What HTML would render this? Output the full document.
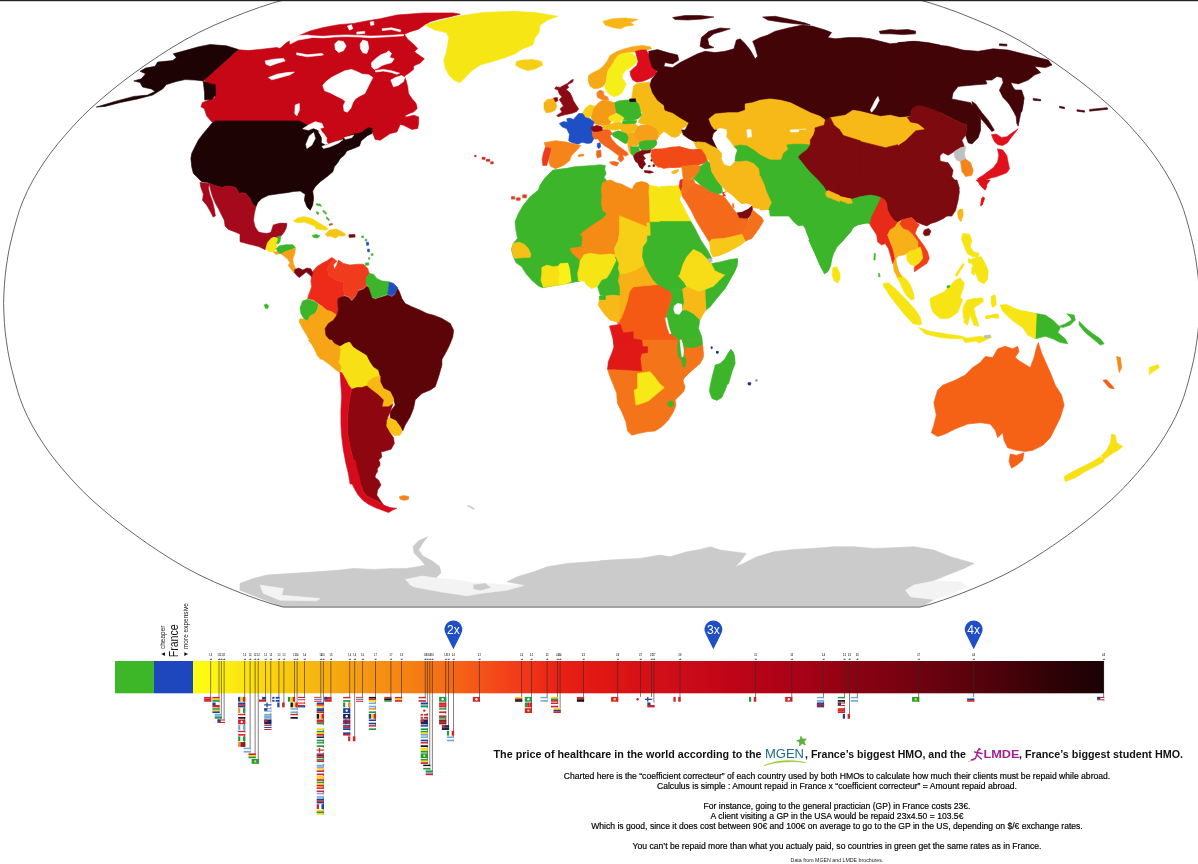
<!DOCTYPE html>
<html><head><meta charset="utf-8"><title>The price of healthcare in the world</title>
<style>
html,body{margin:0;padding:0;background:#fff;}
body{width:1198px;height:864px;overflow:hidden;position:relative;font-family:"Liberation Sans",sans-serif;}
svg{position:absolute;left:0;top:0;}
text{font-family:"Liberation Sans",sans-serif;}
</style></head><body>
<svg width="1198" height="864" viewBox="0 0 1198 864">
<defs><linearGradient id="bar" x1="0" x2="1" y1="0" y2="0"><stop offset="0.0000" stop-color="#ffff14"/><stop offset="0.0516" stop-color="#fbe60f"/><stop offset="0.1175" stop-color="#f7c010"/><stop offset="0.1723" stop-color="#f5a012"/><stop offset="0.2272" stop-color="#f58614"/><stop offset="0.2821" stop-color="#f46a16"/><stop offset="0.3370" stop-color="#f3461a"/><stop offset="0.3699" stop-color="#f03418"/><stop offset="0.4029" stop-color="#e82015"/><stop offset="0.4687" stop-color="#db1414"/><stop offset="0.5346" stop-color="#cc0c18"/><stop offset="0.5895" stop-color="#c00418"/><stop offset="0.6663" stop-color="#a80216"/><stop offset="0.7212" stop-color="#8e0212"/><stop offset="0.7761" stop-color="#780210"/><stop offset="0.8310" stop-color="#62020e"/><stop offset="0.8858" stop-color="#4c020a"/><stop offset="0.9407" stop-color="#300206"/><stop offset="1.0000" stop-color="#1a0204"/></linearGradient>
<clipPath id="globe"><path d="M283.3,607.1 L272.2,604.0 L259.4,599.8 L245.2,594.7 L230.1,588.7 L214.3,582.0 L199.0,574.8 L184.9,567.3 L171.9,559.6 L159.4,551.6 L147.3,543.5 L135.5,535.1 L124.0,526.6 L112.9,517.9 L102.3,509.0 L92.1,500.1 L82.6,491.0 L73.9,481.9 L65.7,472.7 L57.8,463.4 L50.5,454.1 L43.9,444.7 L37.9,435.3 L32.4,425.9 L27.5,416.5 L23.3,407.1 L19.7,397.7 L16.8,388.3 L14.2,378.9 L11.8,369.5 L9.6,360.1 L7.8,350.6 L6.4,341.2 L5.2,331.8 L4.4,322.4 L3.9,313.0 L3.6,303.6 L3.9,294.2 L4.4,284.8 L5.2,275.4 L6.4,266.0 L7.8,256.6 L9.6,247.1 L11.8,237.7 L14.2,228.3 L16.8,218.9 L19.7,209.5 L23.3,200.1 L27.5,190.7 L32.4,181.3 L37.9,171.9 L43.9,162.5 L50.5,153.1 L57.8,143.8 L65.7,134.5 L73.9,125.3 L82.6,116.2 L92.1,107.1 L102.3,98.2 L112.9,89.3 L124.0,80.6 L135.5,72.1 L147.3,63.7 L159.4,55.6 L171.9,47.6 L184.9,39.9 L199.0,32.4 L214.3,25.2 L230.1,18.5 L245.2,12.5 L259.4,7.4 L272.2,3.2 L283.3,0.1 L919.9,0.1 L931.0,3.2 L943.8,7.4 L958.0,12.5 L973.1,18.5 L988.9,25.2 L1004.2,32.4 L1018.3,39.9 L1031.3,47.6 L1043.8,55.6 L1055.9,63.7 L1067.7,72.1 L1079.2,80.6 L1090.3,89.3 L1100.9,98.2 L1111.1,107.1 L1120.6,116.2 L1129.3,125.3 L1137.5,134.5 L1145.4,143.8 L1152.7,153.1 L1159.3,162.5 L1165.3,171.9 L1170.8,181.3 L1175.7,190.7 L1179.9,200.1 L1183.5,209.5 L1186.4,218.9 L1189.0,228.3 L1191.4,237.7 L1193.6,247.1 L1195.4,256.6 L1196.8,266.0 L1198.0,275.4 L1198.8,284.8 L1199.3,294.2 L1199.6,303.6 L1199.3,313.0 L1198.8,322.4 L1198.0,331.8 L1196.8,341.2 L1195.4,350.6 L1193.6,360.1 L1191.4,369.5 L1189.0,378.9 L1186.4,388.3 L1183.5,397.7 L1179.9,407.1 L1175.7,416.5 L1170.8,425.9 L1165.3,435.3 L1159.3,444.7 L1152.7,454.1 L1145.4,463.4 L1137.5,472.7 L1129.3,481.9 L1120.6,491.0 L1111.1,500.1 L1100.9,509.0 L1090.3,517.9 L1079.2,526.6 L1067.7,535.1 L1055.9,543.5 L1043.8,551.6 L1031.3,559.6 L1018.3,567.3 L1004.2,574.8 L988.9,582.0 L973.1,588.7 L958.0,594.7 L943.8,599.8 L931.0,604.0 L919.9,607.1Z"/></clipPath></defs>
<rect width="1198" height="864" fill="#fff"/>
<g clip-path="url(#globe)">
<g><!-- 00_antarctica.py -->
<polygon fill="#cbcbcb" stroke="#cbcbcb" stroke-width="0.6" points="240.0,583.5 253.4,578.5 266.7,575.1 290.1,573.5 316.8,571.8 340.2,570.1 353.5,568.4 373.6,569.4 393.6,568.4 406.9,568.4 417.0,566.8 425.3,565.1 420.3,559.4 414.3,553.4 413.0,546.7 418.6,540.7 427.6,536.7 423.0,542.7 418.6,550.1 423.0,556.1 432.0,560.8 439.7,566.8 441.0,572.8 435.3,578.5 422.0,581.8 406.9,583.5 413.6,586.8 440.3,591.8 467.0,595.2 473.7,593.5 480.4,591.8 493.8,590.2 507.1,588.5 523.8,585.1 507.1,581.8 517.1,576.8 533.8,571.8 547.2,566.8 567.2,563.4 590.6,561.8 614.0,560.1 640.0,560.1 640.0,607.5 283.4,607.5 240.0,590.2" />
<polygon fill="#f3f3f3" stroke="#f3f3f3" stroke-width="0.6" points="260.0,585.1 283.4,588.5 281.7,595.2 320.1,598.5 316.8,600.8 280.1,600.2 263.4,593.5" />
<polygon fill="#f3f3f3" stroke="#f3f3f3" stroke-width="0.6" points="405.3,579.5 422.0,576.1 440.3,578.5 457.0,580.1 473.7,582.8 493.8,584.1 523.8,585.5 507.1,590.2 480.4,593.5 467.0,595.8 440.3,591.8 413.6,586.8" />
<polygon fill="#cbcbcb" stroke="#cbcbcb" stroke-width="0.6" points="473.7,585.1 485.4,583.5 490.4,587.5 480.4,590.2 473.7,588.8" />
</g>
<g><!-- 01_antarctica_e.py -->
<polygon fill="#cbcbcb" stroke="#cbcbcb" stroke-width="0.6" points="600.0,560.8 620.0,559.4 640.1,558.4 660.1,555.1 670.1,556.8 686.8,551.8 700.2,549.4 710.2,546.7 720.2,550.1 733.6,551.8 746.2,553.4 740.2,561.8 735.2,566.8 743.6,563.4 756.9,556.8 773.6,551.8 793.7,549.4 813.7,548.4 833.7,546.7 853.8,546.7 873.8,548.4 893.8,547.7 913.9,546.7 933.9,550.1 950.6,556.8 974.0,563.4 963.9,568.4 947.2,575.1 930.6,581.8 913.9,585.1 905.5,590.2 910.5,596.8 933.9,599.5 920.5,607.5 600.0,607.5" />
<polygon fill="#f3f3f3" stroke="#f3f3f3" stroke-width="0.6" points="905.5,590.2 913.9,585.1 933.9,581.1 960.6,581.8 967.3,586.8 947.2,595.2 933.9,599.5 910.5,596.8" />
</g>
<g><!-- 10_canada_w.py -->
<polygon fill="#c70616" stroke="#c70616" stroke-width="0.6" points="238.4,49.7 204.2,80.1 208.4,84.3 215.0,84.3 215.0,97.6 209.2,100.1 202.5,102.6 200.9,106.8 204.2,108.5 206.7,116.0 211.7,121.8 215.0,124.3 215.9,121.0 300.2,121.0 303.5,126.8 310.2,124.3 320.2,121.8 323.6,126.8 325.2,131.0 323.6,136.9 328.6,140.2 335.2,136.9 343.6,135.2 350.3,133.5 356.9,130.2 367.0,128.5 371.1,126.8 373.6,130.2 375.3,136.9 382.0,135.2 390.0,131.9 390.0,70.1 373.6,73.4 365.3,61.7 356.9,58.4 350.3,51.7 340.3,54.2 331.9,55.9 323.6,54.2 313.5,52.6 306.9,54.2 299.3,55.1 296.8,50.9 285.2,50.1 276.8,47.5 261.8,49.2 248.4,50.6" />
</g>
<g><!-- 11_canada_e.py -->
<polygon fill="#c70616" stroke="#c70616" stroke-width="0.6" points="280.0,48.4 286.7,42.6 298.4,35.9 310.1,30.9 323.4,27.5 338.4,24.7 353.5,23.4 366.8,20.9 380.2,18.7 396.9,15.0 423.6,13.0 453.6,12.9 460.3,14.2 450.3,16.7 438.6,19.2 430.3,21.7 424.4,25.0 418.6,29.2 410.2,31.7 404.4,34.2 407.7,39.2 413.6,44.2 417.7,48.4 414.4,51.8 420.2,55.9 424.4,58.8 420.2,63.1 413.6,65.9 413.6,69.3 408.5,73.5 404.4,76.0 406.0,80.1 407.7,86.8 408.5,93.5 411.9,98.5 416.1,103.5 417.2,108.5 413.6,111.9 409.4,113.5 404.4,116.0 406.9,116.9 413.6,115.2 418.6,116.9 418.6,123.5 417.7,128.5 411.9,129.4 403.5,125.2 400.2,124.4 396.9,131.9 390.2,133.6 380.2,140.2 375.2,139.4 373.5,135.2 371.0,129.4 366.8,131.9 358.5,134.4 350.1,137.7 343.4,139.4 335.1,141.9 328.4,143.6 325.1,138.6 322.6,131.9 318.4,124.4 311.7,123.5 305.0,126.0 301.7,122.7 296.7,121.0 280.0,121.0" />
</g>
<g><!-- 12_usa.py -->
<polygon fill="#1e0305" stroke="#1e0305" stroke-width="0.6" points="215.1,120.9 299.4,120.9 306.9,125.0 318.6,130.9 321.9,138.4 325.2,145.1 335.3,141.7 342.8,139.2 348.6,135.9 353.6,134.2 362.0,132.6 364.5,130.1 368.6,127.5 372.0,128.4 372.0,133.4 367.0,135.9 361.1,140.9 359.5,145.9 353.6,148.4 346.9,150.9 344.4,155.1 340.3,158.4 337.8,162.6 334.4,166.8 332.8,171.8 326.9,176.8 320.2,181.8 315.2,186.8 312.7,191.0 313.6,198.5 312.7,205.2 310.2,210.2 306.9,206.8 304.4,200.2 305.2,194.3 300.2,191.0 293.5,191.5 286.8,192.7 280.2,193.5 275.2,194.3 268.5,195.2 261.8,198.5 257.6,202.7 256.0,206.8 252.6,204.3 250.1,198.5 245.9,193.5 241.8,192.7 239.3,193.5 235.9,187.6 230.1,186.0 225.1,186.0 222.6,187.6 213.4,185.1 207.5,182.6 201.7,181.8 197.5,177.6 193.4,173.5 191.7,166.8 190.9,158.4 191.7,153.4 195.0,146.7 198.4,140.1 203.4,133.4 208.4,127.5 211.7,123.4" />
<polygon fill="#a50a1c" stroke="#a50a1c" stroke-width="0.6" points="209.2,183.5 213.4,185.1 222.6,187.6 225.1,186.0 230.1,186.0 235.9,187.6 239.3,193.5 241.8,192.7 245.9,193.5 250.1,198.5 252.6,204.3 256.0,206.8 254.3,213.5 253.5,220.2 255.1,226.9 258.5,231.9 263.5,234.4 270.2,233.6 274.3,228.5 276.0,224.4 281.8,223.5 286.8,224.4 284.3,231.9 281.8,235.2 278.5,237.7 273.5,236.9 271.0,238.6 270.2,244.1 258.5,244.1 251.8,239.4 243.4,235.6 235.1,231.9 228.4,229.4 225.1,226.0 224.2,220.2 221.7,215.2 218.4,208.5 215.1,202.7 212.6,196.8 210.9,191.0" />
<polygon fill="#a50a1c" stroke="#a50a1c" stroke-width="0.6" points="200.0,182.6 209.2,183.5 208.4,188.5 210.1,195.2 212.6,201.8 214.2,208.5 215.4,216.0 213.1,216.9 210.1,211.0 206.7,205.2 202.5,200.2 203.4,194.3 200.9,187.6" />
<polygon fill="#ffffff" stroke="#ffffff" stroke-width="0.6" points="302.7,128.7 308.5,125.0 315.2,121.7 321.9,123.4 323.6,127.5 318.6,128.7 313.6,128.0 308.5,130.1" />
<polygon fill="#ffffff" stroke="#ffffff" stroke-width="0.6" points="309.4,135.9 313.6,132.6 315.2,138.4 311.9,145.1 306.9,148.4 306.0,144.2" />
<polygon fill="#ffffff" stroke="#ffffff" stroke-width="0.6" points="318.6,131.7 323.6,133.4 326.9,138.4 325.2,144.2 321.9,142.6 322.2,137.6" />
<polygon fill="#ffffff" stroke="#ffffff" stroke-width="0.6" points="321.9,146.4 326.9,144.7 335.3,141.7 342.8,139.7 338.6,143.1 330.3,146.7 323.6,148.4" />
<polygon fill="#ffffff" stroke="#ffffff" stroke-width="0.6" points="344.4,137.6 350.3,135.9 353.6,135.1 352.0,137.6 345.3,139.2" />
</g>
<g><!-- 13_alaska.py -->
<polygon fill="#1e0305" stroke="#1e0305" stroke-width="0.6" points="238.3,49.5 226.5,45.8 210.2,44.5 197.7,47.0 185.2,50.6 173.2,53.8 176.4,57.6 172.7,60.6 157.6,62.1 155.1,66.3 145.6,68.1 140.1,71.3 145.6,73.8 141.4,78.8 133.8,80.9 140.1,82.6 142.6,87.1 151.4,88.9 155.1,91.4 147.6,95.1 133.8,96.4 115.1,101.4 96.3,107.1 105.0,106.4 120.1,102.6 137.6,98.9 152.6,95.1 162.6,88.9 166.4,84.6 176.4,81.4 185.2,79.6 195.2,80.1 203.2,80.9 210.2,83.9 215.2,84.6 215.7,95.1 211.5,99.6 204.7,100.1 204.5,92.6 203.2,80.9" />
</g>
<g><!-- 14_canada_cut.py -->
<polygon fill="#ffffff" stroke="#ffffff" stroke-width="0.6" points="265.1,60.9 273.5,59.2 283.5,58.4 285.2,60.9 276.8,63.4 270.1,65.9 266.0,64.2" />
<polygon fill="#ffffff" stroke="#ffffff" stroke-width="0.6" points="268.5,77.6 276.8,74.3 286.8,72.6 294.3,72.1 290.2,74.8 280.2,77.6 271.8,79.8" />
<polygon fill="#ffffff" stroke="#ffffff" stroke-width="0.6" points="295.2,105.1 299.3,103.5 299.3,110.2 296.8,116.0 294.8,113.5" />
</g>
<g><!-- 15_canada_cut2.py -->
<polygon fill="#ffffff" stroke="#ffffff" stroke-width="0.6" points="334.7,44.1 338.1,40.7 343.4,41.4 346.1,46.1 343.4,50.8 338.7,52.4 335.4,49.4" />
<polygon fill="#ffffff" stroke="#ffffff" stroke-width="0.6" points="360.1,44.1 362.8,40.1 367.5,41.4 368.8,48.1 366.8,53.4 362.8,52.8 360.5,48.7" />
<polygon fill="#ffffff" stroke="#ffffff" stroke-width="0.6" points="371.5,62.8 375.5,58.8 380.8,54.8 386.2,52.8 388.8,50.8 391.5,53.4 389.5,57.4 394.2,58.8 391.5,62.8 386.2,64.1 382.2,65.4 378.1,68.1 374.1,69.4 371.7,66.8" />
<polygon fill="#ffffff" stroke="#ffffff" stroke-width="0.6" points="322.7,85.5 326.1,81.5 331.4,77.5 338.1,74.1 344.8,70.8 351.4,69.4 356.8,71.5 362.1,74.1 368.8,74.8 372.8,77.5 370.1,82.8 367.5,88.1 364.8,93.5 359.4,96.2 355.4,98.8 352.8,102.8 350.8,108.2 347.4,112.2 344.1,110.9 343.4,105.5 345.4,101.5 342.1,98.8 336.7,96.2 330.1,92.8 324.7,90.8" />
<polygon fill="#ffffff" stroke="#ffffff" stroke-width="0.6" points="390.8,80.1 395.5,77.5 401.5,75.5 404.9,77.5 403.5,81.5 398.2,85.5 393.5,86.8" />
<polygon fill="#ffffff" stroke="#ffffff" stroke-width="0.6" points="312.7,35.8 323.4,36.3 334.1,35.4 346.1,35.0 359.4,35.4 370.1,36.1 383.5,35.8 403.5,34.5 403.5,35.8 383.5,37.1 370.1,37.7 359.4,37.0 346.1,36.6 334.1,37.0 323.4,37.9 312.7,37.4" />
<polygon fill="#ffffff" stroke="#ffffff" stroke-width="0.6" points="347.4,26.0 351.4,24.7 352.8,28.7 349.4,30.1" />
<polygon fill="#ffffff" stroke="#ffffff" stroke-width="0.6" points="370.1,22.0 373.5,21.4 374.1,24.7 370.8,25.4" />
<polygon fill="#ffffff" stroke="#ffffff" stroke-width="0.6" points="356.8,32.1 364.8,31.4 364.8,33.4 356.8,34.1" />
<polygon fill="#ffffff" stroke="#ffffff" stroke-width="0.6" points="296.7,52.8 307.4,54.8 322.1,53.4 323.4,55.0 307.4,56.8 296.7,54.8" />
<polygon fill="#ffffff" stroke="#ffffff" stroke-width="0.6" points="382.2,28.7 391.5,27.8 400.9,30.1 400.2,31.8 391.5,29.6 382.2,30.5" />
<polygon fill="#ffffff" stroke="#ffffff" stroke-width="0.6" points="375.5,70.5 383.5,69.4 391.5,70.8 399.5,73.2 396.8,74.3 391.5,72.4 383.5,71.1 375.5,71.9" />
<polygon fill="#ffffff" stroke="#ffffff" stroke-width="0.6" points="307.4,35.0 312.7,35.8 312.7,37.4 306.0,38.7 298.0,40.1 290.0,44.1 290.0,40.1 298.0,35.8" />
</g>
<g><!-- 16_greenland.py -->
<polygon fill="#f6e614" stroke="#f6e614" stroke-width="0.6" points="425.0,25.0 437.6,21.3 457.6,16.3 482.6,12.5 512.7,11.3 535.2,12.5 557.8,16.3 547.7,20.0 540.2,25.0 539.0,32.6 535.2,37.6 532.7,45.1 522.7,48.8 515.2,53.8 505.2,57.6 492.7,61.4 480.1,65.1 472.6,70.1 465.1,77.6 460.1,82.6 453.8,80.1 448.8,75.1 445.1,67.6 443.8,60.1 446.3,52.6 447.6,45.1 448.8,37.6 446.3,32.6 435.1,30.1" />
<polygon fill="#f6cf14" stroke="#f6cf14" stroke-width="0.6" points="516.4,61.4 522.7,60.1 532.7,59.6 541.5,61.4 542.7,65.1 535.2,68.9 527.7,70.6 520.2,68.1 515.7,65.1" />
<polygon fill="#f7b516" stroke="#f7b516" stroke-width="0.6" points="602.8,21.3 612.9,18.8 625.4,18.0 637.9,19.5 630.4,22.5 634.1,25.0 625.4,26.3 620.4,28.8 612.9,27.5 605.3,25.0" />
<polygon fill="#d02018" stroke="#d02018" stroke-width="0.6" points="482.1,157.3 485.1,157.3 485.1,159.3 482.1,159.3" />
<polygon fill="#d02018" stroke="#d02018" stroke-width="0.6" points="486.4,159.3 489.7,159.3 489.7,161.3 486.4,161.3" />
<polygon fill="#d02018" stroke="#d02018" stroke-width="0.6" points="490.7,161.8 493.2,161.8 493.2,163.8 490.7,163.8" />
<polygon fill="#d02018" stroke="#d02018" stroke-width="0.6" points="474.6,155.3 476.1,155.3 476.1,156.8 474.6,156.8" />
<polygon fill="#e0401a" stroke="#e0401a" stroke-width="0.6" points="511.4,196.6 514.7,196.6 514.7,199.1 511.4,199.1" />
<polygon fill="#e0401a" stroke="#e0401a" stroke-width="0.6" points="516.4,197.8 520.2,197.8 520.2,200.3 516.4,200.3" />
<polygon fill="#e0401a" stroke="#e0401a" stroke-width="0.6" points="522.7,194.8 526.5,194.8 526.5,197.8 522.7,197.8" />
</g>
<g><!-- 20_samerica_n.py -->
<polygon fill="#a50a1c" stroke="#a50a1c" stroke-width="0.6" points="270.0,235.0 273.3,225.0 280.0,223.3 286.7,223.3 285.9,229.2 281.7,231.7 280.0,235.9 275.0,236.7" />
<polygon fill="#ee2a18" stroke="#ee2a18" stroke-width="0.6" points="311.7,275.9 312.6,271.8 316.7,266.8 321.8,263.4 326.8,260.9 331.8,257.6 334.3,259.2 330.1,263.4 327.6,268.4 328.4,275.1 333.4,278.4 338.4,280.9 343.5,281.8 343.5,288.5 344.3,295.1 340.1,298.5 337.6,301.8 338.4,310.2 336.8,315.2 331.8,311.8 326.8,310.2 321.8,306.0 318.4,303.5 313.4,300.1 307.6,298.5 309.2,293.5 311.7,286.8 310.9,280.9" />
<polygon fill="#f03c1c" stroke="#f03c1c" stroke-width="0.6" points="334.3,259.2 336.8,260.9 333.4,265.1 334.3,269.3 336.8,265.1 338.4,260.1 343.5,263.4 350.1,265.1 356.8,264.2 363.5,264.2 367.7,268.4 369.3,273.4 366.0,278.4 366.8,285.1 363.5,288.5 358.5,290.1 356.0,295.1 351.8,300.1 348.5,296.8 344.3,295.1 343.5,288.5 343.5,281.8 338.4,280.9 333.4,278.4 328.4,275.1 327.6,268.4 330.1,263.4" />
<polygon fill="#3cb52a" stroke="#3cb52a" stroke-width="0.6" points="369.3,273.4 373.5,274.3 376.8,278.4 381.9,280.9 389.4,281.8 388.5,288.5 387.7,294.3 385.2,295.1 380.2,296.8 375.2,298.5 371.8,296.8 370.2,291.8 368.5,286.8 366.0,283.4 366.0,278.4" />
<polygon fill="#1f4fc4" stroke="#1f4fc4" stroke-width="0.6" points="389.4,282.1 393.5,283.4 397.7,287.6 395.2,293.5 391.9,296.0 387.7,294.3 388.5,288.5" />
<polygon fill="#3cb52a" stroke="#3cb52a" stroke-width="0.6" points="302.6,301.0 307.6,299.3 313.4,301.0 318.4,304.3 317.6,309.3 315.1,313.5 310.1,316.0 307.6,321.0 304.2,319.3 300.9,313.5 300.1,307.7" />
<polygon fill="#f7a416" stroke="#f7a416" stroke-width="0.6" points="307.6,321.0 310.1,316.0 315.1,313.5 317.6,309.3 318.4,304.3 321.8,306.0 326.8,310.2 331.8,311.8 336.8,315.2 333.4,320.2 328.4,323.5 325.1,328.5 325.9,335.2 330.1,340.2 335.1,343.5 340.1,346.9 341.0,353.6 341.8,359.1 320.1,359.1 316.7,351.9 311.7,343.5 306.7,335.2 302.6,328.5 299.2,321.8 300.1,318.5 304.2,319.3" />
<polygon fill="#5c0408" stroke="#5c0408" stroke-width="0.6" points="338.4,298.5 344.3,296.0 348.5,297.6 351.8,301.0 356.0,296.0 358.5,291.0 363.5,289.3 366.8,286.0 368.5,287.6 370.2,292.6 371.8,297.6 375.2,299.3 380.2,297.6 385.2,296.0 387.7,295.1 391.9,296.8 395.2,294.3 397.7,288.5 399.4,291.8 401.9,298.5 405.2,303.5 411.9,306.8 420.3,310.2 426.9,313.5 433.6,315.2 442.0,318.5 450.3,323.5 453.6,330.2 452.8,336.9 449.5,345.2 445.3,353.6 442.0,359.1 363.5,359.1 358.5,351.9 353.5,346.9 350.1,341.9 345.1,343.5 340.1,346.1 335.1,343.5 330.1,340.2 325.9,335.2 325.1,328.5 328.4,323.5 333.4,320.2 336.8,315.2 338.4,310.2 337.6,301.8" />
<polygon fill="#f7e014" stroke="#f7e014" stroke-width="0.6" points="340.1,346.9 345.1,343.5 350.1,341.9 353.5,346.9 358.5,351.9 363.5,359.1 341.8,359.1 341.0,353.6" />
<polygon fill="#1f4fc4" stroke="#1f4fc4" stroke-width="0.6" points="366.3,242.2 368.5,242.2 368.8,245.1 366.7,245.4" />
<polygon fill="#1f4fc4" stroke="#1f4fc4" stroke-width="0.6" points="367.5,249.1 369.3,249.1 369.5,251.7 367.7,251.9" />
<polygon fill="#3cb52a" stroke="#3cb52a" stroke-width="0.6" points="361.8,235.9 363.5,235.9 363.5,237.7 361.8,237.7" />
<polygon fill="#3cb52a" stroke="#3cb52a" stroke-width="0.6" points="365.2,239.2 366.8,239.2 366.8,241.0 365.2,241.0" />
<polygon fill="#3cb52a" stroke="#3cb52a" stroke-width="0.6" points="371.3,253.7 373.0,253.7 373.0,255.6 371.3,255.6" />
<polygon fill="#3cb52a" stroke="#3cb52a" stroke-width="0.6" points="365.2,263.1 368.8,262.7 368.8,265.1 365.5,265.4" />
<polygon fill="#3cb52a" stroke="#3cb52a" stroke-width="0.6" points="368.5,257.6 369.8,257.6 369.8,259.2 368.5,259.2" />
</g>
<g><!-- 21_samerica_s.py -->
<polygon fill="#f7a416" stroke="#f7a416" stroke-width="0.6" points="308.3,340.0 331.7,340.0 335.9,346.7 340.9,350.0 340.1,356.7 339.2,362.5 341.7,366.7 340.1,372.6 335.9,370.1 330.1,365.0 323.4,360.0 317.5,355.9 315.0,350.0 311.7,344.2" />
<polygon fill="#f7e014" stroke="#f7e014" stroke-width="0.6" points="340.9,350.0 345.1,345.0 350.1,341.7 353.4,346.7 358.4,350.0 366.8,355.0 370.1,361.7 373.5,366.7 378.5,370.1 380.1,375.9 373.5,377.6 368.4,380.9 366.8,385.9 361.8,387.6 356.8,387.6 351.8,389.2 348.4,385.1 345.1,378.4 341.7,372.6 341.7,366.7 339.2,362.5 340.1,356.7" />
<polygon fill="#5c0408" stroke="#5c0408" stroke-width="0.6" points="333.4,340.0 450.3,340.0 446.9,346.7 441.9,355.0 441.9,365.0 438.6,376.7 435.2,386.7 430.2,390.1 421.9,393.4 415.2,400.1 413.5,408.4 410.2,416.8 405.2,425.1 402.7,431.0 400.2,426.8 395.2,420.1 390.2,418.5 390.2,411.8 395.2,405.1 393.5,398.4 390.2,391.8 383.5,388.4 380.1,381.7 380.1,375.9 378.5,370.1 373.5,366.7 370.1,361.7 366.8,355.0 358.4,350.0 353.4,346.7 350.1,341.7" />
<polygon fill="#f7b816" stroke="#f7b816" stroke-width="0.6" points="368.4,380.9 373.5,377.6 380.1,375.9 380.1,381.7 383.5,388.4 390.2,391.8 393.5,398.4 392.7,404.3 388.5,406.8 381.8,406.8 383.5,400.1 378.5,395.1 371.8,390.1 366.8,385.9" />
<polygon fill="#f7c416" stroke="#f7c416" stroke-width="0.6" points="387.6,417.6 391.0,418.5 396.0,421.0 400.2,426.8 402.2,431.0 400.2,435.2 394.3,435.5 389.3,431.8 386.0,426.0 386.5,421.0" />
<polygon fill="#8e060f" stroke="#8e060f" stroke-width="0.6" points="351.8,389.2 356.8,387.6 361.8,387.6 366.8,385.9 371.8,390.1 378.5,395.1 383.5,400.1 381.8,406.8 388.5,406.8 392.7,404.3 390.2,411.8 387.6,417.6 386.5,421.0 386.0,426.0 389.3,431.8 393.5,437.7 394.3,443.5 391.0,449.3 385.1,451.0 381.0,451.9 381.8,456.9 378.5,460.2 380.1,465.2 376.0,470.2 375.1,476.9 376.8,484.1 360.1,484.1 356.8,476.9 355.1,468.5 352.6,456.9 350.1,446.8 347.6,433.5 347.6,420.1 348.4,406.8 350.1,396.8" />
<polygon fill="#d60c1c" stroke="#d60c1c" stroke-width="0.6" points="340.1,372.6 341.7,372.6 345.1,378.4 348.4,385.1 351.8,389.2 350.1,396.8 348.4,406.8 347.6,420.1 347.6,433.5 350.1,446.8 352.6,456.9 355.1,468.5 356.8,476.9 360.1,484.1 350.1,484.1 348.4,473.6 345.9,463.5 343.4,450.2 341.7,436.8 340.9,423.5 340.9,410.1 341.7,396.8 340.9,385.1" />
</g>
<g><!-- 22_samerica_tip.py -->
<polygon fill="#8e060f" stroke="#8e060f" stroke-width="0.6" points="355.1,460.0 378.5,460.0 380.1,463.3 376.8,466.7 377.6,471.7 373.5,476.7 378.5,480.0 381.0,485.0 377.6,490.1 376.8,495.1 380.1,500.1 383.5,505.1 378.5,501.7 371.8,498.4 366.8,495.9 363.4,491.7 360.9,485.0 359.3,476.7 356.8,468.3" />
<polygon fill="#d60c1c" stroke="#d60c1c" stroke-width="0.6" points="346.7,460.0 355.1,460.0 356.8,468.3 359.3,476.7 360.9,485.0 363.4,491.7 366.8,495.9 371.8,498.4 378.5,501.7 383.5,505.1 390.2,507.6 396.8,508.4 392.7,510.1 388.5,512.6 381.8,510.1 375.1,507.6 368.4,504.2 362.6,500.1 357.6,494.2 353.4,486.7 350.1,478.4 348.4,468.3" />
<polygon fill="#f5841a" stroke="#f5841a" stroke-width="0.6" points="399.3,496.7 403.5,495.6 408.8,496.4 408.5,499.2 404.3,500.4 400.2,499.2" />
<polygon fill="#cccccc" stroke="#cccccc" stroke-width="0.6" points="467.8,505.4 471.1,506.4 474.5,508.7 473.6,509.4 470.3,507.6 467.4,506.2" />
</g>
<g><!-- 23_caribbean.py -->
<polygon fill="#a50a1c" stroke="#a50a1c" stroke-width="0.6" points="240.0,233.4 240.0,241.7 249.3,244.3 258.7,246.5 265.1,249.7 267.4,242.7 271.4,238.1 273.4,232.1 266.7,233.4 256.0,232.1" />
<polygon fill="#f5d80f" stroke="#f5d80f" stroke-width="0.6" points="293.4,221.4 297.4,218.0 304.1,216.7 312.1,218.7 318.8,222.7 325.5,226.7 328.1,228.7 325.5,230.1 320.1,229.6 316.1,228.7 314.8,226.0 309.4,224.0 304.1,222.0 298.8,222.7" />
<polygon fill="#f5c414" stroke="#f5c414" stroke-width="0.6" points="325.5,234.1 329.5,230.1 336.2,229.1 341.5,231.4 346.2,234.7 342.8,236.3 338.8,235.8 335.5,238.1 330.8,236.3 326.8,236.3" />
<polygon fill="#f7e414" stroke="#f7e414" stroke-width="0.6" points="266.0,248.7 267.4,242.7 271.4,238.1 276.1,237.4 278.1,240.1 276.7,244.1 276.1,248.7 273.4,252.1 268.7,251.4" />
<polygon fill="#3cb52a" stroke="#3cb52a" stroke-width="0.6" points="277.4,236.7 280.7,235.8 280.1,241.4 278.1,244.1 276.7,243.4 278.1,240.1" />
<polygon fill="#f5a018" stroke="#f5a018" stroke-width="0.6" points="273.4,252.1 277.4,251.4 280.1,253.4 276.1,254.5" />
<polygon fill="#3cb52a" stroke="#3cb52a" stroke-width="0.6" points="276.1,248.7 278.7,246.1 285.4,244.7 292.8,244.7 295.4,247.4 290.8,249.7 285.4,251.4 281.4,254.1 278.1,252.1" />
<polygon fill="#f5a018" stroke="#f5a018" stroke-width="0.6" points="281.4,254.1 285.4,251.4 290.8,249.7 295.4,248.1 294.8,253.4 292.8,258.8 293.4,264.1 290.1,262.8 287.4,258.8 284.7,256.8" />
<polygon fill="#f5a018" stroke="#f5a018" stroke-width="0.6" points="290.1,262.8 293.4,264.1 295.4,268.1 294.1,272.8 291.4,269.4 288.1,265.4" />
<polygon fill="#7a0812" stroke="#7a0812" stroke-width="0.6" points="294.8,269.4 298.8,268.1 302.8,270.1 306.8,268.1 310.8,268.8 312.8,272.8 311.5,276.8 308.8,274.1 306.1,272.1 302.8,274.8 299.4,277.5 296.8,275.5 294.5,272.8" />
<polygon fill="#3cb52a" stroke="#3cb52a" stroke-width="0.6" points="315.9,203.7 320.1,204.0 321.7,206.4 320.1,206.0 316.8,205.3" />
<polygon fill="#3cb52a" stroke="#3cb52a" stroke-width="0.6" points="316.8,211.4 318.8,212.7 318.1,214.7 316.4,213.4" />
<polygon fill="#3cb52a" stroke="#3cb52a" stroke-width="0.6" points="323.5,210.0 326.8,213.4 326.1,214.4 322.8,211.4" />
<polygon fill="#3cb52a" stroke="#3cb52a" stroke-width="0.6" points="326.8,216.7 329.7,220.0 328.8,220.8 326.1,218.0" />
<polygon fill="#e0401a" stroke="#e0401a" stroke-width="0.6" points="329.2,224.0 332.2,223.5 332.4,224.8 329.5,225.4" />
<polygon fill="#3cb52a" stroke="#3cb52a" stroke-width="0.6" points="312.1,235.4 316.1,234.5 319.9,235.8 317.5,238.1 313.5,237.4" />
<polygon fill="#7a0812" stroke="#7a0812" stroke-width="0.6" points="348.8,234.7 354.9,234.5 355.1,237.1 349.2,237.4" />
<polygon fill="#3cb52a" stroke="#3cb52a" stroke-width="0.6" points="264.3,304.8 266.7,303.9 268.7,306.2 267.4,308.8 265.1,307.9" />
</g>
<g><!-- 30_africa_w.py -->
<polygon fill="#3cb52a" stroke="#3cb52a" stroke-width="0.6" points="538.4,190.0 530.1,196.7 523.4,205.0 518.4,213.4 515.0,221.7 515.9,230.1 517.5,238.4 513.4,243.4 511.4,249.3 513.4,256.8 515.9,262.6 521.7,266.8 525.9,273.5 531.7,280.2 538.4,286.0 542.6,287.7 580.2,281.0 606.9,223.4 605.2,213.4 600.2,206.7 601.9,190.0" />
<polygon fill="#f5c018" stroke="#f5c018" stroke-width="0.6" points="513.4,243.4 519.2,242.1 524.2,244.3 528.4,248.4 530.9,254.3 530.1,257.6 523.4,257.6 515.0,258.4 513.4,256.8 511.4,249.3" />
<polygon fill="#f7e014" stroke="#f7e014" stroke-width="0.6" points="541.8,267.6 546.8,265.1 553.4,266.8 558.4,266.0 559.3,273.5 558.4,281.0 559.3,285.2 551.8,286.0 543.4,287.3 540.9,280.2 541.8,273.5" />
<polygon fill="#fbf01a" stroke="#fbf01a" stroke-width="0.6" points="558.4,266.0 560.1,263.5 568.5,263.1 570.1,268.5 571.0,275.1 571.8,281.0 565.1,284.3 559.3,285.2 558.4,281.0 559.3,273.5" />
<polygon fill="#3cb52a" stroke="#3cb52a" stroke-width="0.6" points="568.5,263.1 576.8,256.8 581.0,260.1 580.2,281.0 571.8,281.5 571.0,275.1 570.1,268.5" />
<polygon fill="#f7e414" stroke="#f7e414" stroke-width="0.6" points="580.2,260.1 583.5,254.3 590.2,252.6 600.2,254.3 610.2,253.4 615.2,254.3 616.9,260.1 613.5,266.8 610.2,273.5 606.9,278.5 601.9,280.2 596.8,286.8 591.8,288.5 586.8,285.2 584.3,281.0 578.5,281.0 577.6,273.5 579.3,266.8" />
<polygon fill="#f58a14" stroke="#f58a14" stroke-width="0.6" points="570.1,248.4 581.8,246.8 582.7,233.4 593.5,225.9 606.9,217.5 616.9,216.7 619.4,223.4 618.5,240.1 614.4,248.4 615.2,254.3 610.2,253.4 600.2,254.3 590.2,252.6 583.5,254.3 580.2,260.1 576.0,256.8 571.8,252.6" />
<polygon fill="#f58a14" stroke="#f58a14" stroke-width="0.6" points="601.9,190.0 648.6,190.0 649.4,221.7 647.8,229.2 618.5,216.7 606.9,217.5 605.2,213.4 600.2,206.7" />
<polygon fill="#f7cf18" stroke="#f7cf18" stroke-width="0.6" points="618.5,216.7 647.8,229.2 646.9,245.1 642.8,249.3 641.1,256.8 643.6,263.5 638.6,268.5 631.9,271.8 623.6,275.1 619.4,273.5 617.7,268.5 618.5,263.5 616.0,258.4 615.2,254.3 614.4,248.4 618.5,240.1 619.4,223.4" />
<polygon fill="#f7e414" stroke="#f7e414" stroke-width="0.6" points="649.4,190.0 677.8,190.0 679.3,200.0 684.7,211.7 689.7,220.9 650.3,220.9" />
<polygon fill="#3cb52a" stroke="#3cb52a" stroke-width="0.6" points="650.3,220.9 690.0,220.9 690.0,260.1 682.0,263.5 680.3,273.5 685.3,283.5 683.7,286.8 673.6,290.2 665.3,288.5 656.9,285.2 650.3,276.8 645.3,270.1 643.6,263.5 641.1,256.8 642.8,249.3 646.9,245.1 647.8,229.2" />
<polygon fill="#f7b016" stroke="#f7b016" stroke-width="0.6" points="619.4,273.5 623.6,275.1 631.9,271.8 638.6,268.5 643.6,263.5 645.3,270.1 650.3,276.8 656.9,285.2 650.3,286.0 643.6,285.2 636.9,285.2 631.9,286.8 628.6,291.8 623.6,293.5 620.2,288.5 617.7,281.0" />
<polygon fill="#3cb52a" stroke="#3cb52a" stroke-width="0.6" points="615.2,256.8 618.5,263.5 617.7,268.5 619.4,273.5 617.7,281.0 620.2,288.5 621.1,296.0 613.5,295.2 605.2,296.0 600.2,295.2 597.7,286.8 601.9,280.2 606.9,278.5 610.2,273.5 613.5,266.8 616.9,260.1" />
<polygon fill="#3cb52a" stroke="#3cb52a" stroke-width="0.6" points="599.3,296.0 606.0,296.0 606.0,300.2 599.3,300.2" />
<polygon fill="#f7b818" stroke="#f7b818" stroke-width="0.6" points="599.3,300.2 606.0,300.2 606.0,296.0 613.5,295.2 621.1,296.0 623.6,293.5 628.6,291.8 626.9,298.5 623.6,306.9 621.9,316.9 616.9,321.9 610.2,320.2 605.2,315.2 601.0,309.4 598.2,305.2" />
<polygon fill="#f7b016" stroke="#f7b016" stroke-width="0.6" points="628.6,291.8 631.9,286.8 636.9,285.2 635.2,293.5 631.9,300.2 628.6,306.9 625.2,315.2 623.6,321.9 616.9,321.9 621.9,316.9 623.6,306.9 626.9,298.5" />
<polygon fill="#f45a14" stroke="#f45a14" stroke-width="0.6" points="631.9,286.8 636.9,285.2 643.6,285.2 650.3,286.0 656.9,285.2 665.3,288.5 671.1,291.8 670.3,300.2 667.8,306.9 665.3,313.5 664.5,321.9 665.3,334.1 636.9,334.1 633.6,331.1 626.9,328.6 621.9,326.9 616.9,322.7 623.6,321.9 625.2,315.2 628.6,306.9 631.9,300.2 635.2,293.5" />
</g>
<g><!-- 31_africa_e.py -->
<polygon fill="#f7cf18" stroke="#f7cf18" stroke-width="0.6" points="620.0,240.0 646.7,240.0 643.4,246.7 642.5,256.7 645.0,265.0 636.7,270.1 628.3,273.4 620.0,275.1" />
<polygon fill="#f7b016" stroke="#f7b016" stroke-width="0.6" points="620.0,275.1 628.3,273.4 636.7,270.1 645.0,265.0 648.4,271.7 653.4,280.1 658.4,285.1 650.1,285.9 641.7,286.7 633.4,287.6 630.0,291.8 625.0,298.4 620.0,303.4" />
<polygon fill="#f7b016" stroke="#f7b016" stroke-width="0.6" points="620.0,303.4 625.0,298.4 630.0,291.8 628.3,300.1 625.0,310.1 621.7,318.5 620.0,320.1" />
<polygon fill="#3cb52a" stroke="#3cb52a" stroke-width="0.6" points="648.4,240.0 698.5,240.0 703.5,248.3 711.0,257.5 708.5,258.7 701.8,253.4 695.1,250.0 691.8,250.9 686.8,258.4 682.6,265.0 680.9,273.4 678.4,275.9 684.3,282.6 686.8,286.7 682.6,289.2 675.1,290.1 670.1,291.8 663.4,288.4 658.4,285.1 653.4,280.1 648.4,271.7 645.0,265.0 642.5,256.7 643.4,246.7" />
<polygon fill="#3cb52a" stroke="#3cb52a" stroke-width="0.6" points="670.1,291.8 675.1,290.1 682.6,289.2 683.4,295.1 684.3,301.8 682.6,310.1 686.8,310.1 693.5,313.5 700.1,318.5 698.5,328.5 701.8,336.8 702.6,344.3 693.5,346.8 684.3,346.0 683.4,348.5 685.9,356.9 686.8,363.5 681.8,366.9 678.4,356.9 679.3,346.8 676.8,338.5 670.1,333.5 668.4,326.8 665.9,316.8 667.6,310.1 670.1,303.4 671.8,296.8" />
<polygon fill="#ffffff" stroke="#ffffff" stroke-width="0.6" points="674.3,305.9 677.6,303.4 681.8,304.3 682.1,310.1 679.3,314.3 675.1,313.5 673.8,309.3" />
<polygon fill="#f7dc18" stroke="#f7dc18" stroke-width="0.6" points="691.8,250.9 695.1,250.0 701.8,253.4 708.5,258.7 711.0,265.0 716.8,271.7 726.0,274.2 720.2,280.1 713.5,286.7 705.1,290.1 698.5,291.8 690.1,288.4 686.8,286.7 684.3,282.6 678.4,275.9 680.9,273.4 682.6,265.0 686.8,258.4" />
<polygon fill="#bbbbbb" stroke="#bbbbbb" stroke-width="0.6" points="707.6,258.4 711.5,258.0 711.8,261.7 708.5,262.5" />
<polygon fill="#3cb52a" stroke="#3cb52a" stroke-width="0.6" points="711.0,265.0 720.2,264.2 730.2,261.7 737.7,260.0 736.9,266.7 731.9,276.7 725.2,288.4 716.8,298.4 710.2,306.8 706.0,310.1 705.1,296.8 705.1,290.1 713.5,286.7 720.2,280.1 726.0,274.2 716.8,271.7" />
<polygon fill="#f7b818" stroke="#f7b818" stroke-width="0.6" points="686.8,286.7 690.1,288.4 698.5,291.8 705.1,290.1 705.1,296.8 706.0,310.1 703.5,313.5 700.1,320.1 693.5,313.5 686.8,310.1 682.6,310.1 684.3,301.8 683.4,295.1 682.6,289.2" />
<polygon fill="#f7c818" stroke="#f7c818" stroke-width="0.6" points="710.2,240.0 746.9,240.0 740.2,245.0 728.5,251.7 718.5,255.9 712.7,256.7 710.2,250.0" />
<polygon fill="#f45a14" stroke="#f45a14" stroke-width="0.6" points="630.0,291.8 633.4,287.6 641.7,286.7 650.1,285.9 658.4,285.1 663.4,288.4 670.1,291.8 671.8,296.8 670.1,303.4 667.6,310.1 665.9,316.8 668.4,326.8 670.1,333.5 676.8,338.5 678.4,343.5 675.1,346.8 670.1,348.5 666.7,356.9 663.4,355.2 660.1,350.2 653.4,346.8 646.7,346.8 646.7,351.9 641.7,351.9 640.0,340.2 633.4,338.5 633.4,331.8 623.3,332.7 620.0,326.8 620.0,320.1 621.7,318.5 625.0,310.1 628.3,300.1" />
<polygon fill="#ffffff" stroke="#ffffff" stroke-width="0.6" points="665.4,318.5 666.7,317.6 668.7,326.8 670.9,333.5 669.7,333.8 667.2,326.8" />
<polygon fill="#e01818" stroke="#e01818" stroke-width="0.6" points="609.5,326.0 620.0,324.3 623.3,332.7 633.4,331.8 633.4,338.5 640.0,340.2 641.7,351.9 646.7,351.9 642.5,356.9 641.7,370.2 616.7,370.2 613.3,340.2" />
<polygon fill="#f4741a" stroke="#f4741a" stroke-width="0.6" points="646.7,346.8 653.4,346.8 660.1,350.2 663.4,355.2 666.7,356.9 670.1,348.5 675.1,346.8 678.4,343.5 679.3,346.8 678.4,356.9 676.8,360.2 668.4,363.5 663.4,368.5 656.7,371.9 650.1,370.2 641.7,370.2 642.5,356.9 646.7,351.9" />
<polygon fill="#f4741a" stroke="#f4741a" stroke-width="0.6" points="684.3,346.0 693.5,346.8 702.6,344.3 703.5,353.5 701.8,360.2 695.1,366.9 688.4,373.6 683.4,378.6 682.6,384.1 676.8,384.1 675.1,373.6 670.1,368.5 668.4,363.5 676.8,360.2 678.4,356.9 681.8,366.9 686.8,363.5 685.9,356.9 683.4,348.5" />
<polygon fill="#ffffff" stroke="#ffffff" stroke-width="0.6" points="680.9,341.8 682.6,341.0 684.3,348.5 684.8,356.9 683.1,356.9 682.1,348.5" />
<polygon fill="#f4741a" stroke="#f4741a" stroke-width="0.6" points="656.7,371.9 663.4,368.5 668.4,363.5 670.1,368.5 675.1,373.6 676.8,384.1 660.1,384.1 653.4,376.9" />
<polygon fill="#f7e414" stroke="#f7e414" stroke-width="0.6" points="636.7,373.6 650.1,370.2 656.7,371.9 653.4,376.9 660.1,384.1 636.7,384.1" />
<polygon fill="#f58a14" stroke="#f58a14" stroke-width="0.6" points="620.0,370.2 641.7,370.2 650.1,370.2 636.7,373.6 636.7,384.1 620.0,384.1" />
<polygon fill="#3cb52a" stroke="#3cb52a" stroke-width="0.6" points="731.0,349.3 734.4,355.2 735.2,363.5 731.9,371.9 728.5,384.1 711.8,384.1 713.5,373.6 718.5,365.2 725.2,360.2 728.5,353.5" />
<polygon fill="#1a2a8c" stroke="#1a2a8c" stroke-width="0.6" points="711.0,346.8 712.3,346.8 712.3,348.5 711.0,348.5" />
<polygon fill="#1a2a8c" stroke="#1a2a8c" stroke-width="0.6" points="716.5,351.5 718.0,351.5 718.0,353.2 716.5,353.2" />
<polygon fill="#3cb52a" stroke="#3cb52a" stroke-width="0.6" points="808.6,240.0 820.0,240.0 820.0,265.0 815.3,253.4" />
</g>
<g><!-- 32_africa_s.py -->
<polygon fill="#f4741a" stroke="#f4741a" stroke-width="0.6" points="607.5,369.2 610.0,376.7 613.4,385.1 616.7,393.4 617.5,403.4 621.7,411.8 625.9,421.8 627.5,431.0 631.7,435.2 638.4,433.5 646.7,431.8 655.1,431.0 661.8,426.8 668.4,420.1 673.5,411.8 676.0,405.1 675.1,400.1 678.5,396.8 683.5,391.8 685.1,386.7 682.6,380.1 686.8,375.1 693.5,369.2 700.2,363.4 703.5,356.7 701.8,346.7 700.2,340.0 641.7,340.0 640.9,350.0 640.1,356.7 641.7,370.9 630.1,370.1 616.7,369.2" />
<polygon fill="#e01818" stroke="#e01818" stroke-width="0.6" points="613.4,340.0 641.7,340.0 642.6,346.7 647.6,346.7 647.6,352.5 641.7,353.4 640.1,358.4 641.7,370.9 630.1,370.1 616.7,369.2 607.5,369.2 608.3,361.7 611.7,353.4 614.2,346.7" />
<polygon fill="#f7e818" stroke="#f7e818" stroke-width="0.6" points="637.6,373.4 650.1,371.7 655.1,377.6 660.1,384.2 664.3,387.6 658.4,392.6 653.4,396.8 648.4,400.9 641.7,403.4 635.9,405.1 634.2,390.1 637.6,388.4" />
<polygon fill="#3cb52a" stroke="#3cb52a" stroke-width="0.6" points="670.6,400.9 672.8,401.8 673.6,403.9 672.8,406.1 670.6,406.9 668.4,406.1 667.6,403.9 668.4,401.8" />
<polygon fill="#3cb52a" stroke="#3cb52a" stroke-width="0.6" points="678.5,340.0 681.8,340.0 684.3,348.3 683.5,355.0 686.0,360.0 685.1,366.7 682.6,366.7 681.8,360.0 678.5,356.7 677.6,348.3" />
<polygon fill="#ffffff" stroke="#ffffff" stroke-width="0.6" points="680.1,340.0 681.8,340.0 683.5,350.0 683.1,356.7 681.8,356.7 681.0,350.0" />
<polygon fill="#3cb52a" stroke="#3cb52a" stroke-width="0.6" points="681.8,340.0 700.2,340.0 701.8,345.0 693.5,347.5 685.1,346.7" />
<polygon fill="#3cb52a" stroke="#3cb52a" stroke-width="0.6" points="731.1,349.7 733.6,352.5 734.4,360.0 732.7,366.7 729.4,378.4 725.2,390.1 721.9,397.6 716.9,400.4 711.9,398.4 709.3,390.9 711.0,381.7 713.5,371.7 715.2,365.0 720.2,363.4 725.2,358.4 728.5,352.5" />
<polygon fill="#1a2a8c" stroke="#1a2a8c" stroke-width="0.6" points="716.5,351.4 718.2,351.4 718.2,353.0 716.5,353.0" />
<polygon fill="#1a2a8c" stroke="#1a2a8c" stroke-width="0.6" points="748.4,382.4 750.4,382.4 750.9,383.7 750.4,385.1 748.4,385.1 747.9,383.7" />
<polygon fill="#999999" stroke="#999999" stroke-width="0.6" points="755.6,379.6 757.3,379.6 757.3,381.2 755.6,381.2" />
</g>
<g><!-- 40_europe_n.py -->
<polygon fill="#f5a818" stroke="#f5a818" stroke-width="0.6" points="588.7,75.4 592.7,72.7 599.4,69.4 603.4,66.1 607.4,60.7 610.1,55.4 616.8,51.4 624.8,48.7 632.8,46.7 642.2,45.4 650.2,46.7 651.5,48.7 646.2,50.0 640.8,50.0 636.8,52.0 631.5,52.0 626.1,52.7 619.4,54.7 615.4,58.7 612.8,63.4 610.1,68.1 608.1,71.4 606.8,76.7 606.1,82.1 603.4,86.1 599.4,88.1 594.1,88.8 590.1,86.1 588.1,80.8" />
<polygon fill="#f6ee18" stroke="#f6ee18" stroke-width="0.6" points="608.1,70.1 610.8,66.7 614.1,61.4 616.8,56.7 620.8,54.0 627.5,52.7 632.8,53.4 635.5,56.7 636.8,61.4 634.1,64.7 630.1,68.1 626.1,70.1 622.8,74.1 622.1,78.1 624.8,81.4 626.1,84.8 624.1,88.8 622.1,92.8 618.1,95.4 614.1,96.8 610.1,94.8 606.8,91.4 604.8,87.4 606.1,82.1 606.8,76.7" />
<polygon fill="#dc0c1c" stroke="#dc0c1c" stroke-width="0.6" points="635.5,51.4 640.8,50.0 646.2,50.0 648.2,53.4 649.5,58.0 651.5,63.4 655.5,68.7 656.8,72.7 652.8,76.7 647.5,79.4 642.2,81.4 636.8,82.1 632.8,80.1 630.8,76.1 630.1,71.4 632.8,68.7 636.8,65.4 638.1,61.4 636.8,56.7" />
<polygon fill="#f5bb14" stroke="#f5bb14" stroke-width="0.6" points="633.5,86.1 636.8,83.4 643.5,82.8 649.5,82.1 650.2,87.4 652.8,92.8 656.8,96.8 660.9,102.1 663.5,107.5 667.5,110.1 672.9,112.8 678.2,116.8 684.9,119.5 688.2,122.2 686.2,126.2 682.2,128.2 681.6,132.8 676.9,135.5 671.5,136.8 666.2,132.8 663.5,131.5 659.5,135.5 656.8,132.8 655.5,128.8 651.5,126.2 646.2,124.8 640.8,123.5 638.1,122.2 640.8,116.8 642.2,112.8 639.5,108.8 638.1,104.8 638.8,102.1 635.5,100.8 631.5,99.4 632.1,95.4 632.8,91.4" />
<polygon fill="#3cb52a" stroke="#3cb52a" stroke-width="0.6" points="614.1,102.8 619.4,100.8 626.1,100.1 631.5,100.1 636.8,101.5 638.8,104.8 640.2,110.1 641.5,115.5 638.1,118.8 632.8,120.2 627.5,120.8 622.8,119.5 619.4,115.5 616.1,112.8 614.8,107.5" />
<polygon fill="#f59a14" stroke="#f59a14" stroke-width="0.6" points="596.1,105.5 599.4,102.1 603.4,100.1 608.8,100.8 614.1,102.8 614.8,107.5 616.1,112.8 612.8,115.5 608.8,116.8 611.4,120.8 609.4,124.8 603.4,125.5 598.1,124.8 594.1,123.5 591.4,118.1 590.7,112.8 592.7,108.8" />
<polygon fill="#f58420" stroke="#f58420" stroke-width="0.6" points="596.7,92.8 600.1,90.1 603.4,91.4 604.1,95.4 607.4,96.8 608.8,99.4 605.4,100.1 601.4,99.4 597.4,97.4" />
<polygon fill="#f7ce1a" stroke="#f7ce1a" stroke-width="0.6" points="582.7,112.8 585.4,108.1 590.1,104.8 594.7,106.1 592.7,110.1 591.4,115.5 588.7,118.1 584.7,116.8" />
<polygon fill="#8c0a14" stroke="#8c0a14" stroke-width="0.6" points="571.4,80.1 573.4,79.4 572.7,82.1 567.4,84.8 568.7,87.4 566.0,89.4 570.0,92.8 572.0,96.8 573.4,100.8 576.7,106.1 578.7,108.8 576.7,111.5 571.4,113.5 564.7,114.8 558.0,116.8 556.7,115.5 562.0,112.1 560.0,108.8 563.4,106.1 561.4,102.8 559.3,99.4 562.0,96.8 559.3,94.1 558.0,90.1 554.7,88.8 556.0,86.8 560.0,87.4 563.4,85.4 567.4,83.4" />
<polygon fill="#8c0a14" stroke="#8c0a14" stroke-width="0.6" points="553.3,98.1 557.3,97.4 558.0,100.8 554.7,102.1" />
<polygon fill="#f5b318" stroke="#f5b318" stroke-width="0.6" points="544.0,102.8 547.3,99.4 553.3,98.8 554.7,102.1 556.0,102.8 556.7,106.1 555.3,110.1 551.3,112.1 546.0,112.8 544.0,108.8" />
<polygon fill="#1f4fc4" stroke="#1f4fc4" stroke-width="0.6" points="559.3,123.5 563.4,121.5 567.4,122.2 566.7,118.8 570.0,118.1 573.4,119.5 578.7,113.5 582.7,113.5 585.4,117.5 590.1,118.8 594.1,122.2 592.7,126.2 591.4,129.5 592.7,134.2 594.1,138.2 591.4,142.9 587.4,143.5 582.1,142.2 578.0,144.2 572.7,142.9 568.7,140.9 569.4,134.2 566.7,128.8 562.0,126.8" />
<polygon fill="#8e0812" stroke="#8e0812" stroke-width="0.6" points="592.1,126.8 596.7,125.5 601.4,126.8 602.1,129.5 598.1,131.5 593.4,131.5 591.1,129.5" />
<polygon fill="#f7e41a" stroke="#f7e41a" stroke-width="0.6" points="608.8,116.8 612.8,114.8 616.8,113.5 620.8,115.5 624.1,118.1 622.1,120.8 616.8,122.2 612.1,121.5 608.8,119.5" />
<polygon fill="#f5bb14" stroke="#f5bb14" stroke-width="0.6" points="603.4,125.5 609.4,124.8 614.1,122.8 620.8,122.2 622.8,124.8 620.8,128.8 615.4,130.2 610.1,129.5 605.4,128.8 602.1,128.2" />
<polygon fill="#3cb52a" stroke="#3cb52a" stroke-width="0.6" points="622.8,120.8 627.5,120.8 632.8,120.2 636.8,120.8 635.5,123.5 630.1,124.8 624.8,124.8 622.1,123.5" />
<polygon fill="#f5b816" stroke="#f5b816" stroke-width="0.6" points="620.8,128.8 622.8,124.8 630.1,125.1 635.5,124.2 638.1,126.2 635.5,130.2 630.1,132.2 624.8,132.2" />
<polygon fill="#f5a018" stroke="#f5a018" stroke-width="0.6" points="635.5,130.2 638.8,126.2 646.2,125.1 652.8,126.8 656.2,129.5 656.8,134.2 659.5,136.2 655.5,138.2 648.8,138.8 642.2,138.2 638.1,135.5 634.8,133.5" />
<polygon fill="#f2651c" stroke="#f2651c" stroke-width="0.6" points="593.4,132.2 598.1,131.8 602.1,129.9 606.1,129.5 610.1,130.2 610.8,133.5 607.4,135.5 608.8,139.5 612.8,145.3 606.1,145.3 603.4,140.9 599.4,138.2 595.4,138.8 592.7,136.2" />
<polygon fill="#3cb52a" stroke="#3cb52a" stroke-width="0.6" points="612.8,132.8 618.1,130.8 624.8,132.6 628.8,135.5 628.8,140.9 626.1,143.5 622.1,140.9 618.1,138.2 614.1,136.8 612.1,134.8" />
<polygon fill="#3cb52a" stroke="#3cb52a" stroke-width="0.6" points="639.5,140.2 646.2,139.5 655.5,138.8 656.8,142.2 655.5,145.3 640.8,145.3" />
<polygon fill="#200608" stroke="#200608" stroke-width="0.6" points="629.5,99.0 635.5,98.8 635.7,101.5 629.9,101.7" />
</g>
<g><!-- 41_europe_s.py -->
<polygon fill="#3cb52a" stroke="#3cb52a" stroke-width="0.6" points="538.1,200.1 538.1,192.8 539.5,186.1 544.8,178.1 552.8,170.1 560.0,169.1 566.7,168.3 574.7,166.7 584.1,166.1 593.4,165.4 600.1,164.7 605.4,165.4 604.8,169.4 606.1,173.4 604.1,177.4 606.8,180.8 602.8,182.8 601.4,189.4 602.1,196.1 601.4,202.8 602.8,210.8 606.8,213.5 604.1,217.5 596.1,222.8 588.1,228.2 582.7,232.2 580.1,235.3 540.0,235.3" />
<polygon fill="#f5851a" stroke="#f5851a" stroke-width="0.6" points="544.1,142.7 555.5,140.7 566.2,142.0 574.2,144.0 580.9,145.4 576.9,150.1 571.5,155.4 569.5,160.7 563.5,165.4 555.5,168.7 550.2,166.1 548.8,160.7 550.8,154.1 550.2,147.4 545.5,146.7" />
<polygon fill="#ee3a1c" stroke="#ee3a1c" stroke-width="0.6" points="545.5,147.1 550.8,148.0 550.2,154.1 548.1,160.7 546.8,165.4 542.8,165.4 542.1,159.4 543.5,152.7" />
<polygon fill="#f5851a" stroke="#f5851a" stroke-width="0.6" points="578.1,155.0 583.4,154.1 583.8,155.8 578.7,156.7" />
<polygon fill="#1f4fc4" stroke="#1f4fc4" stroke-width="0.6" points="597.4,143.4 600.1,142.7 600.8,146.7 598.8,148.7 597.2,146.7" />
<polygon fill="#f2651c" stroke="#f2651c" stroke-width="0.6" points="596.8,150.7 600.8,150.1 601.2,156.7 597.4,158.1 596.4,154.7" />
<polygon fill="#f2651c" stroke="#f2651c" stroke-width="0.6" points="593.4,130.7 597.4,129.3 602.8,130.0 609.4,130.7 612.8,133.4 610.1,135.8 612.1,139.4 616.8,144.7 622.1,148.7 626.8,152.1 628.4,154.5 625.5,156.1 622.5,155.0 623.9,159.0 620.8,162.1 618.1,159.4 619.1,155.8 614.8,152.7 609.4,148.7 604.1,145.4 600.1,142.0 597.7,138.7 594.5,139.0 592.5,135.4" />
<polygon fill="#7a0a10" stroke="#7a0a10" stroke-width="0.6" points="638.2,162.7 641.5,160.1 645.5,164.1 643.5,166.7 642.2,169.1 639.9,167.4" />
<polygon fill="#f2651c" stroke="#f2651c" stroke-width="0.6" points="609.4,162.1 614.1,161.4 618.8,162.7 616.8,166.1 612.1,164.7" />
<polygon fill="#8e0812" stroke="#8e0812" stroke-width="0.6" points="591.4,127.3 597.4,126.0 602.1,127.3 602.1,130.4 597.4,131.4 592.8,131.4" />
<polygon fill="#3cb52a" stroke="#3cb52a" stroke-width="0.6" points="612.8,134.7 617.5,132.0 622.8,131.4 626.8,133.4 628.8,137.4 628.1,142.0 624.8,143.4 621.5,141.4 617.5,138.7 614.1,136.7" />
<polygon fill="#f5a818" stroke="#f5a818" stroke-width="0.6" points="626.8,133.4 632.2,132.0 636.2,134.7 638.8,140.0 639.5,144.0 636.2,146.0 632.2,145.4 630.8,148.7 633.5,153.4 632.2,155.4 629.5,152.1 628.1,146.7 627.5,142.7 628.8,137.4" />
<polygon fill="#3cb52a" stroke="#3cb52a" stroke-width="0.6" points="639.5,142.0 646.8,140.0 654.9,140.0 656.9,144.0 653.5,148.0 646.8,150.1 641.5,150.1 638.8,146.7" />
<polygon fill="#3cb52a" stroke="#3cb52a" stroke-width="0.6" points="630.6,146.7 638.8,146.7 639.5,150.7 635.5,153.4 633.5,156.1 631.1,153.4" />
<polygon fill="#7a0a10" stroke="#7a0a10" stroke-width="0.6" points="633.5,156.1 636.2,153.1 641.5,150.5 646.8,150.5 650.9,149.6 650.2,152.7 645.5,153.4 642.8,155.0 645.5,158.7 643.5,160.1 645.5,164.1 642.8,166.1 642.2,168.7 639.5,166.7 638.2,163.4 635.5,161.4 634.2,158.7" />
<polygon fill="#7a0a10" stroke="#7a0a10" stroke-width="0.6" points="644.2,170.5 650.9,171.0 653.5,172.4 649.5,173.2 644.8,172.4" />
<polygon fill="#7a0a10" stroke="#7a0a10" stroke-width="0.6" points="650.9,159.4 652.5,159.4 652.5,161.1 650.9,161.1" />
<polygon fill="#7a0a10" stroke="#7a0a10" stroke-width="0.6" points="652.9,164.7 654.6,164.7 654.6,166.5 652.9,166.5" />
<polygon fill="#7a0a10" stroke="#7a0a10" stroke-width="0.6" points="648.4,165.4 650.1,165.4 650.1,166.7 648.4,166.7" />
<polygon fill="#f5a018" stroke="#f5a018" stroke-width="0.6" points="636.2,128.0 641.5,125.3 649.5,126.0 656.2,129.3 658.2,133.4 657.5,139.4 652.2,140.0 645.5,140.0 639.5,141.4 636.8,137.4 633.5,133.4" />
<polygon fill="#f5b816" stroke="#f5b816" stroke-width="0.6" points="620.1,128.0 622.8,124.7 632.2,124.0 637.5,126.7 635.5,130.7 630.8,132.3 625.5,132.7 621.5,131.4" />
<polygon fill="#f5bb14" stroke="#f5bb14" stroke-width="0.6" points="671.6,132.7 677.6,132.0 679.6,135.4 674.9,137.4 671.6,136.0" />
<polygon fill="#f24a16" stroke="#f24a16" stroke-width="0.6" points="651.5,152.1 656.2,149.1 662.9,148.7 670.9,147.4 678.9,146.7 686.9,148.7 693.6,150.1 700.0,148.7 700.0,164.1 693.6,164.7 686.9,166.1 682.9,167.4 678.9,165.4 673.6,167.4 668.2,166.7 662.9,166.1 658.9,167.4 654.9,164.7 652.2,160.1 650.9,156.1" />
<polygon fill="#f24a16" stroke="#f24a16" stroke-width="0.6" points="650.9,150.1 655.5,148.7 656.2,151.4 652.2,152.7" />
<polygon fill="#f5b818" stroke="#f5b818" stroke-width="0.6" points="671.6,172.4 674.9,170.8 678.9,169.7 677.6,172.1 673.6,173.7" />
<polygon fill="#f58a14" stroke="#f58a14" stroke-width="0.6" points="606.8,180.8 610.8,180.1 616.1,182.8 621.5,184.1 626.8,186.8 632.2,189.4 633.5,186.1 636.2,182.8 641.5,181.4 646.8,182.8 649.5,185.4 648.8,192.1 649.5,200.1 649.8,222.8 646.8,222.8 646.8,226.8 618.8,215.5 609.4,215.5 604.1,217.5 606.8,213.5 602.8,210.8 601.4,202.8 602.1,196.1 601.4,189.4 602.8,182.8" />
<polygon fill="#f7e414" stroke="#f7e414" stroke-width="0.6" points="649.5,185.4 654.9,186.1 660.2,187.4 666.9,186.8 673.6,186.1 678.9,185.4 680.9,189.4 681.6,194.8 679.6,198.8 677.6,194.8 676.5,191.5 678.9,200.1 682.9,208.1 686.9,216.2 689.6,222.2 650.2,222.2 649.5,200.1 648.8,192.1" />
<polygon fill="#3cb52a" stroke="#3cb52a" stroke-width="0.6" points="650.2,222.2 689.6,222.2 693.6,226.8 694.9,235.3 650.2,235.3" />
<polygon fill="#f5d016" stroke="#f5d016" stroke-width="0.6" points="618.8,215.5 646.8,226.8 646.8,222.8 649.8,222.8 650.2,235.3 618.8,235.3" />
<polygon fill="#f58a14" stroke="#f58a14" stroke-width="0.6" points="604.1,217.5 609.4,215.5 618.8,215.5 618.8,235.3 580.1,235.3 582.7,232.2 588.1,228.2 596.1,222.8" />
</g>
<g><!-- 50_asia_w.py -->
<polygon fill="#430408" stroke="#430408" stroke-width="0.6" points="648.8,51.3 657.5,49.6 667.5,52.6 677.6,55.1 678.8,60.1 672.6,63.9 665.0,62.6 663.8,66.4 672.6,67.6 680.1,62.6 687.6,58.8 697.6,53.8 705.1,51.3 715.1,52.6 725.1,51.3 733.9,48.8 736.4,40.1 740.2,38.8 745.2,43.8 750.2,50.1 755.2,58.8 757.7,56.3 755.2,47.6 752.7,41.3 760.2,37.6 767.7,35.1 775.2,31.3 790.3,27.5 802.8,25.0 812.8,26.3 825.3,30.1 831.6,32.6 827.8,37.6 835.3,38.8 847.8,37.6 860.4,37.6 870.4,38.8 880.4,41.3 890.4,43.8 902.9,42.6 915.5,41.3 928.0,42.6 940.0,45.1 940.0,105.2 928.0,106.4 915.5,105.2 911.7,110.2 910.5,116.4 900.4,117.7 890.4,115.2 880.4,116.4 870.4,113.9 860.4,111.4 852.9,110.2 845.3,115.2 837.8,116.4 830.3,117.7 825.3,120.2 820.3,116.4 810.3,112.7 800.3,107.7 790.3,102.7 780.2,100.2 770.2,98.9 760.2,100.2 752.7,102.7 745.2,103.9 745.2,110.2 737.7,112.7 727.6,112.7 715.1,113.9 708.9,118.9 711.4,125.2 715.1,130.2 712.6,136.5 715.1,145.2 710.1,147.7 702.6,144.0 693.8,141.5 687.6,137.7 683.8,132.7 686.3,127.7 688.8,122.7 680.1,117.7 672.6,112.7 665.0,110.2 663.8,105.2 657.5,100.2 652.5,92.7 650.0,85.1 651.3,80.1 655.0,75.1 657.5,71.4 652.0,67.1 650.0,60.1 648.8,55.6" />
<polygon fill="#430408" stroke="#430408" stroke-width="0.6" points="700.1,46.3 701.4,37.6 708.9,31.3 720.1,28.0 730.2,28.8 722.6,31.3 713.9,33.8 707.6,38.8 708.9,45.1 713.9,47.6 705.1,48.8" />
<polygon fill="#430408" stroke="#430408" stroke-width="0.6" points="672.6,17.5 685.1,15.5 700.1,15.5 713.9,17.0 702.6,19.0 687.6,20.0 675.1,19.5" />
<polygon fill="#430408" stroke="#430408" stroke-width="0.6" points="762.7,17.0 775.2,16.3 790.3,19.5 805.3,23.0 810.3,25.0 795.3,23.8 780.2,22.0 767.7,20.0" />
<polygon fill="#430408" stroke="#430408" stroke-width="0.6" points="879.2,31.3 890.4,29.5 902.9,30.6 915.5,31.3 915.5,33.8 902.9,34.6 890.4,33.8 880.4,33.8" />
<polygon fill="#f7b918" stroke="#f7b918" stroke-width="0.6" points="708.9,118.9 715.1,113.9 727.6,112.7 737.7,112.7 745.2,110.2 745.2,103.9 752.7,102.7 760.2,100.2 770.2,98.9 780.2,100.2 790.3,102.7 800.3,107.7 810.3,112.7 820.3,116.4 825.3,120.2 824.1,125.2 815.3,127.7 812.8,135.2 815.3,142.7 812.8,145.2 800.3,144.0 787.7,145.2 784.0,150.3 787.7,155.3 780.2,160.3 776.5,164.0 770.2,155.3 762.7,150.3 752.7,147.7 745.2,145.2 740.2,146.5 735.2,150.3 732.7,145.2 727.6,140.2 725.1,135.2 717.6,132.7 715.1,130.2 711.4,125.2" />
<polygon fill="#ffffff" stroke="#ffffff" stroke-width="0.6" points="746.4,130.2 750.2,129.0 751.4,136.5 747.7,137.7" />
<polygon fill="#ffffff" stroke="#ffffff" stroke-width="0.6" points="790.3,130.2 805.3,129.0 806.5,131.5 792.8,134.0" />
<polygon fill="#ffffff" stroke="#ffffff" stroke-width="0.6" points="870.4,110.2 875.4,100.2 877.9,96.4 879.2,100.2 875.4,107.7 871.6,112.2" />
<polygon fill="#f7b918" stroke="#f7b918" stroke-width="0.6" points="830.3,117.7 837.8,116.4 845.3,115.2 852.9,110.2 860.4,111.4 870.4,113.9 880.4,116.4 890.4,115.2 900.4,117.7 910.5,116.4 915.5,122.7 924.2,127.7 918.0,132.7 909.2,136.5 905.4,142.7 895.4,145.2 885.4,147.7 875.4,145.2 865.4,142.7 855.4,140.2 847.8,135.2 840.3,130.2 834.1,125.2" />
<polygon fill="#7c0a0e" stroke="#7c0a0e" stroke-width="0.6" points="825.3,120.2 830.3,117.7 834.1,125.2 840.3,130.2 847.8,135.2 855.4,140.2 865.4,142.7 875.4,145.2 885.4,147.7 895.4,145.2 905.4,142.7 909.2,136.5 918.0,132.7 924.2,127.7 915.5,122.7 910.5,116.4 911.7,110.2 915.5,105.2 928.0,106.4 940.0,105.2 940.0,216.1 887.9,216.1 886.7,200.3 880.4,197.8 870.4,200.3 860.4,197.8 850.4,195.3 840.3,192.8 830.3,190.3 825.3,185.3 820.3,177.8 815.3,172.8 807.8,165.3 800.3,157.8 802.8,152.8 812.8,145.2 815.3,142.7 812.8,135.2 815.3,127.7 824.1,125.2" />
<polygon fill="#3cb52a" stroke="#3cb52a" stroke-width="0.6" points="735.2,147.7 740.2,146.5 745.2,145.2 752.7,147.7 762.7,150.3 770.2,155.3 776.5,164.0 780.2,160.3 787.7,155.3 784.0,150.3 787.7,145.2 800.3,144.0 812.8,145.2 802.8,152.8 800.3,157.8 807.8,165.3 815.3,172.8 820.3,177.8 825.3,185.3 826.6,196.6 832.8,200.3 842.8,204.1 852.9,202.8 865.4,200.3 875.4,197.8 880.4,200.3 877.9,210.4 872.9,216.1 770.2,216.1 769.0,207.8 765.2,200.3 762.7,192.8 760.2,185.3 762.7,175.3 760.2,167.8 755.2,162.8 747.7,160.3 740.2,156.5 736.4,152.8" />
<polygon fill="#f7b918" stroke="#f7b918" stroke-width="0.6" points="825.3,190.3 830.3,190.3 840.3,194.1 850.4,197.8 852.9,202.8 842.8,204.1 832.8,200.3 826.6,196.6" />
<polygon fill="#f7b918" stroke="#f7b918" stroke-width="0.6" points="715.1,145.2 720.1,150.3 722.6,157.8 726.4,164.0 732.7,165.3 736.4,160.3 736.4,152.8 740.2,156.5 747.7,160.3 755.2,162.8 760.2,167.8 762.7,175.3 760.2,185.3 762.7,192.8 765.2,200.3 769.0,207.8 762.7,209.1 752.7,206.6 745.2,202.8 737.7,197.8 730.2,192.8 725.1,185.3 720.1,177.8 715.1,170.3 710.1,162.8 707.6,155.3 706.4,150.3 710.1,147.7" />
<polygon fill="#f7b918" stroke="#f7b918" stroke-width="0.6" points="693.8,141.5 702.6,144.0 710.1,147.7 715.1,145.2 720.1,150.3 715.1,152.8 707.6,155.3 702.6,150.3 696.3,147.7" />
<polygon fill="#ffffff" stroke="#ffffff" stroke-width="0.6" points="712.6,132.7 720.1,128.2 727.6,130.2 728.9,136.5 725.1,141.5 727.6,147.7 733.9,150.3 736.4,160.3 732.7,165.3 726.4,164.0 722.6,157.8 720.1,150.3 715.1,145.2 712.6,139.0" />
</g>
<g><!-- 51_asia_e.py -->
<polygon fill="#430408" stroke="#430408" stroke-width="0.6" points="898.0,42.6 913.0,41.3 928.1,43.8 948.1,46.3 963.1,50.1 978.1,51.3 993.2,48.8 1008.2,50.1 1023.2,53.8 1038.2,57.6 1048.3,60.1 1052.0,65.1 1045.7,67.6 1034.5,66.4 1040.7,72.6 1034.5,75.1 1028.2,80.1 1018.2,83.9 1010.7,82.6 1013.2,87.6 1019.5,95.2 1023.2,102.7 1022.0,111.4 1018.2,113.9 1013.2,107.7 1008.2,102.7 1003.2,97.7 999.4,90.2 1003.2,82.6 1001.9,77.6 996.9,76.4 991.9,80.1 985.6,80.1 986.9,83.9 973.1,85.1 958.1,86.4 953.1,92.7 951.8,98.9 958.1,100.2 970.6,102.7 975.6,110.2 980.6,118.9 980.6,130.2 978.1,137.7 971.9,144.0 968.1,142.7 965.6,135.2 966.9,125.2 960.6,122.7 950.6,117.7 940.6,112.7 928.1,107.7 919.3,105.2 913.0,107.7 898.0,110.2" />
<polygon fill="#430408" stroke="#430408" stroke-width="0.6" points="971.9,101.4 975.6,103.9 981.9,112.7 988.2,120.2 994.4,130.2 991.9,131.5 985.6,124.0 978.1,115.2 973.1,107.7" />
<polygon fill="#430408" stroke="#430408" stroke-width="0.6" points="1033.2,98.4 1040.7,99.4 1040.7,100.9 1033.2,100.2" />
<polygon fill="#430408" stroke="#430408" stroke-width="0.6" points="1059.5,106.2 1064.5,107.2 1064.5,108.7 1059.5,107.7" />
<polygon fill="#430408" stroke="#430408" stroke-width="0.6" points="1077.0,109.7 1084.6,110.7 1084.6,112.2 1077.0,111.2" />
<polygon fill="#430408" stroke="#430408" stroke-width="0.6" points="1089.6,109.4 1107.1,107.7 1107.9,109.2 1089.6,111.2" />
<polygon fill="#430408" stroke="#430408" stroke-width="0.6" points="999.4,43.8 1006.9,44.3 1006.9,46.1 999.4,45.6" />
<polygon fill="#430408" stroke="#430408" stroke-width="0.6" points="898.0,30.1 908.0,29.5 915.5,31.3 908.0,33.1 898.0,32.6" />
<polygon fill="#7c0a0e" stroke="#7c0a0e" stroke-width="0.6" points="913.0,107.7 919.3,105.2 928.1,107.7 940.6,112.7 950.6,117.7 960.6,122.7 966.9,125.2 965.6,135.2 961.9,140.2 964.4,146.5 960.6,147.7 954.3,151.5 948.1,155.3 943.1,152.8 935.6,159.0 941.8,161.5 948.1,162.8 953.1,170.3 951.8,176.5 956.8,182.8 959.4,191.6 958.1,200.3 955.6,210.4 951.8,216.1 898.0,216.1 898.0,145.2 905.5,140.2 915.5,130.2 924.3,129.0 918.0,124.0 910.5,122.7 906.8,117.7 913.0,115.2" />
<polygon fill="#f7b918" stroke="#f7b918" stroke-width="0.6" points="898.0,117.7 906.8,117.7 910.5,122.7 918.0,124.0 924.3,129.0 915.5,130.2 905.5,140.2 898.0,145.2" />
<polygon fill="#c0c0c0" stroke="#c0c0c0" stroke-width="0.6" points="954.3,151.5 960.6,147.7 965.6,146.5 964.4,154.0 965.6,159.0 960.6,161.5 956.8,160.3 954.3,156.5" />
<polygon fill="#f5841a" stroke="#f5841a" stroke-width="0.6" points="960.6,161.5 965.6,159.0 970.6,162.8 973.1,170.3 971.9,175.3 965.6,176.5 961.9,171.5" />
<polygon fill="#f7b818" stroke="#f7b818" stroke-width="0.6" points="958.1,210.4 961.9,209.1 962.6,216.1 958.1,216.1" />
</g>
<g><!-- 52_mideast.py -->
<polygon fill="#f7b918" stroke="#f7b918" stroke-width="0.6" points="726.8,130.0 815.3,130.0 813.6,135.0 810.3,140.0 810.3,145.0 801.9,144.2 793.6,144.2 786.9,145.0 788.5,149.2 783.5,153.4 781.9,158.4 778.5,163.4 773.5,161.7 766.8,158.4 760.2,155.0 753.5,150.0 746.8,145.9 740.1,145.0 733.5,146.7 730.1,141.7 725.9,136.7" />
<polygon fill="#ffffff" stroke="#ffffff" stroke-width="0.6" points="746.8,130.0 751.0,130.0 751.5,136.7 747.6,137.5" />
<polygon fill="#ffffff" stroke="#ffffff" stroke-width="0.6" points="790.2,130.0 798.6,130.0 798.6,131.7 790.6,132.0" />
<polygon fill="#3cb52a" stroke="#3cb52a" stroke-width="0.6" points="733.5,146.7 740.1,145.0 746.8,145.9 753.5,150.0 760.2,155.0 766.8,158.4 773.5,161.7 778.5,163.4 781.9,158.4 783.5,153.4 788.5,149.2 786.9,145.0 793.6,144.2 801.9,144.2 810.3,145.0 806.9,150.0 801.9,153.4 798.6,156.7 801.9,163.4 806.9,168.4 811.9,173.4 818.6,180.1 824.4,186.8 826.9,191.8 825.3,195.1 833.6,198.4 843.6,201.8 852.0,203.5 860.0,200.1 860.0,223.5 853.7,226.8 848.6,233.5 843.6,240.2 837.0,246.9 833.6,253.5 830.3,263.6 826.9,270.2 824.4,274.1 821.1,266.9 816.9,256.9 811.9,246.9 808.6,236.8 805.2,228.5 801.9,223.5 798.6,226.0 793.6,221.8 788.5,215.1 783.5,210.1 776.9,210.1 769.3,208.5 769.3,206.0 770.2,200.1 765.2,193.4 761.8,185.1 760.2,176.7 758.5,168.4 753.5,163.4 746.8,160.9 740.1,161.7 734.3,161.7 735.1,155.0 736.8,150.0" />
<polygon fill="#7c0a0e" stroke="#7c0a0e" stroke-width="0.6" points="815.3,130.0 840.3,130.0 843.6,135.0 860.0,140.0 860.0,196.8 852.0,199.3 843.6,196.8 835.3,194.3 826.9,190.9 824.4,186.8 818.6,180.1 811.9,173.4 806.9,168.4 801.9,163.4 798.6,156.7 801.9,153.4 806.9,150.0 810.3,145.0 810.3,140.0 813.6,135.0" />
<polygon fill="#f7b918" stroke="#f7b918" stroke-width="0.6" points="825.3,195.1 826.9,190.9 835.3,194.3 843.6,196.8 852.0,199.3 852.8,203.5 843.6,201.8 833.6,198.4" />
<polygon fill="#f7b918" stroke="#f7b918" stroke-width="0.6" points="840.3,130.0 860.0,130.0 860.0,140.0 843.6,135.0" />
<polygon fill="#f24a16" stroke="#f24a16" stroke-width="0.6" points="660.0,150.9 670.0,147.5 680.0,146.7 690.1,150.0 701.7,149.2 705.9,155.0 707.6,160.9 703.4,163.4 696.7,165.1 686.7,165.9 678.4,167.6 670.0,167.6 663.3,168.4 660.0,166.7" />
<polygon fill="#430408" stroke="#430408" stroke-width="0.6" points="681.7,130.0 716.8,130.0 713.4,133.3 711.8,138.3 715.1,145.0 716.8,148.4 711.8,145.9 705.1,142.5 696.7,141.7 688.4,138.3 683.4,135.0" />
<polygon fill="#f7b918" stroke="#f7b918" stroke-width="0.6" points="696.7,141.7 705.1,142.5 711.8,145.9 716.8,148.4 720.9,151.7 722.6,157.5 716.8,158.4 710.1,156.7 707.6,160.9 705.9,155.0 701.7,149.2 699.2,145.0" />
<polygon fill="#f57a18" stroke="#f57a18" stroke-width="0.6" points="681.7,165.9 686.7,165.9 696.7,165.1 700.9,165.9 699.2,171.7 695.1,176.7 688.4,180.1 683.4,179.2 682.5,173.4" />
<polygon fill="#e03018" stroke="#e03018" stroke-width="0.6" points="680.0,180.1 683.0,179.2 682.5,186.8 680.9,190.9 679.2,186.8" />
<polygon fill="#f5701a" stroke="#f5701a" stroke-width="0.6" points="683.0,179.2 688.4,180.1 693.4,178.4 695.1,183.4 689.2,187.6 685.0,192.6 681.4,191.8 682.5,186.8" />
<polygon fill="#3cb52a" stroke="#3cb52a" stroke-width="0.6" points="700.9,165.9 707.6,160.9 710.1,163.4 711.8,171.7 716.8,180.1 721.8,186.8 722.6,192.6 717.6,194.3 710.1,191.8 701.7,185.9 693.4,178.4 695.1,176.7 699.2,171.7" />
<polygon fill="#f7b918" stroke="#f7b918" stroke-width="0.6" points="710.1,156.7 716.8,158.4 722.6,157.5 724.3,164.2 730.1,165.9 734.3,161.7 740.1,161.7 746.8,160.9 753.5,163.4 758.5,168.4 760.2,176.7 761.8,185.1 765.2,193.4 770.2,200.1 769.3,206.0 766.8,209.3 760.2,208.5 751.8,207.6 746.8,203.5 741.8,204.3 736.8,200.1 731.8,195.1 726.8,191.8 722.6,186.8 716.8,180.1 711.8,171.7 710.1,163.4" />
<polygon fill="#f46a1a" stroke="#f46a1a" stroke-width="0.6" points="681.4,191.8 685.0,192.6 689.2,187.6 695.1,183.4 701.7,185.9 710.1,191.8 717.6,194.3 723.4,195.9 726.8,200.1 731.8,206.8 736.0,212.6 738.5,216.8 748.5,219.3 746.8,226.8 741.8,234.3 731.8,236.8 723.4,238.5 711.8,239.3 709.2,241.9 705.1,235.2 700.9,228.5 695.9,220.2 690.9,210.1 685.9,201.8 682.5,196.8" />
<polygon fill="#e03018" stroke="#e03018" stroke-width="0.6" points="722.6,192.6 725.9,191.8 726.8,195.9 723.4,195.9" />
<polygon fill="#7a0a10" stroke="#7a0a10" stroke-width="0.6" points="736.8,212.6 741.8,211.8 748.5,208.5 751.8,206.0 752.7,210.1 751.0,215.1 747.6,218.5 739.3,217.6" />
<polygon fill="#f5701a" stroke="#f5701a" stroke-width="0.6" points="751.0,215.1 752.7,210.1 756.8,213.5 761.8,217.6 763.5,221.0 760.2,226.8 756.8,231.8 751.8,238.5 745.1,241.0 741.8,234.3 746.8,226.8 748.5,219.3" />
<polygon fill="#f5701a" stroke="#f5701a" stroke-width="0.6" points="732.6,203.5 734.3,203.5 734.6,207.6 732.6,207.6" />
<polygon fill="#f7c818" stroke="#f7c818" stroke-width="0.6" points="709.2,241.9 711.8,239.3 723.4,238.5 731.8,236.8 741.8,234.3 745.1,241.0 740.1,245.2 731.8,249.4 723.4,252.7 715.1,256.0 711.8,253.5" />
<polygon fill="#ffffff" stroke="#ffffff" stroke-width="0.6" points="724.3,193.1 726.8,192.1 731.8,195.4 736.8,200.5 741.8,204.6 746.8,203.8 751.5,205.5 748.1,208.5 741.8,211.5 736.8,212.1 734.6,207.1 734.3,203.1 732.3,203.1 730.1,201.8 726.8,196.8" />
<polygon fill="#ffffff" stroke="#ffffff" stroke-width="0.6" points="715.1,135.0 720.1,130.0 726.8,131.7 725.9,136.7 730.1,141.7 733.5,146.7 736.8,150.0 735.1,155.0 734.3,161.7 730.1,165.9 724.3,164.2 721.8,158.4 722.6,153.4 718.4,149.2 715.9,143.4 713.4,138.3" />
<polygon fill="#f7e414" stroke="#f7e414" stroke-width="0.6" points="660.0,186.8 670.0,185.9 677.5,187.6 680.0,193.4 679.2,199.3 676.7,195.1 681.7,203.5 686.7,213.5 690.9,221.0 660.0,221.0" />
<polygon fill="#3cb52a" stroke="#3cb52a" stroke-width="0.6" points="660.0,221.5 690.9,221.5 695.9,230.2 700.9,240.2 707.6,250.2 711.8,258.5 710.1,261.9 701.7,253.5 693.4,249.4 686.7,256.9 683.4,263.6 680.0,274.1 660.0,274.1" />
<polygon fill="#f7dc18" stroke="#f7dc18" stroke-width="0.6" points="686.7,256.9 693.4,249.4 701.7,253.5 708.4,260.2 711.8,263.6 715.1,270.2 723.4,274.1 680.0,274.1 683.4,263.6" />
<polygon fill="#bbbbbb" stroke="#bbbbbb" stroke-width="0.6" points="708.4,258.5 711.8,258.5 712.1,261.9 708.7,262.2" />
<polygon fill="#3cb52a" stroke="#3cb52a" stroke-width="0.6" points="711.8,263.6 720.1,261.9 730.1,259.4 737.6,258.5 736.8,265.2 733.5,274.1 723.4,274.1 715.1,270.2" />
<polygon fill="#f5b818" stroke="#f5b818" stroke-width="0.6" points="671.7,171.7 675.9,170.1 678.4,169.7 676.7,172.6 673.0,173.7" />
</g>
<g><!-- 53_india.py -->
<polygon fill="#3cb52a" stroke="#3cb52a" stroke-width="0.6" points="768.0,209.4 786.0,212.8 792.7,220.1 800.1,225.7 805.4,224.4 806.7,232.1 810.8,242.8 816.1,256.2 821.4,268.2 825.4,273.3 828.1,271.5 830.8,265.5 832.1,256.2 832.8,246.8 838.8,241.5 845.5,237.5 850.8,232.1 853.5,226.8 858.8,224.1 866.8,222.8 869.5,224.1 870.9,218.8 873.5,212.1 876.2,205.4 880.2,198.7 877.5,195.4 872.2,195.0 866.8,197.4 858.8,198.7 852.2,200.1 852.2,204.1 840.1,201.4 826.8,196.1 826.1,192.1 818.8,184.0 800.1,160.0 760.0,160.0 760.0,176.0 764.0,184.0 766.0,190.7 771.4,202.7" />
<polygon fill="#f7b918" stroke="#f7b918" stroke-width="0.6" points="825.4,193.4 828.1,190.5 834.8,193.4 842.8,197.4 852.2,200.1 852.4,204.1 848.1,204.7 840.1,202.1 832.1,198.7 826.8,196.7" />
<polygon fill="#f7e414" stroke="#f7e414" stroke-width="0.6" points="832.8,267.5 836.8,266.8 839.9,273.5 840.1,278.9 837.5,282.9 834.1,280.9 832.1,274.9" />
<polygon fill="#f7b918" stroke="#f7b918" stroke-width="0.6" points="760.0,176.0 764.0,184.0 766.0,190.7 771.4,202.7 768.0,209.4 760.0,210.1" />
</g>
<g><!-- 54_japan.py -->
<polygon fill="#e0101c" stroke="#e0101c" stroke-width="0.6" points="991.5,134.7 996.1,134.1 1001.5,137.4 1006.8,136.7 1012.2,132.7 1016.2,130.1 1018.2,128.7 1013.5,134.7 1010.2,138.7 1007.5,142.8 1002.8,145.4 998.1,144.8 994.8,142.1 992.8,138.1" />
<polygon fill="#e0101c" stroke="#e0101c" stroke-width="0.6" points="997.5,148.8 1002.8,150.1 1006.8,155.4 1008.1,162.1 1009.5,168.8 1006.8,172.8 1001.5,174.8 996.1,176.8 990.8,178.1 986.8,179.5 982.8,182.2 978.8,180.8 977.4,178.8 982.8,175.5 988.1,171.5 993.5,167.5 997.5,162.1 998.8,155.4" />
<polygon fill="#e0101c" stroke="#e0101c" stroke-width="0.6" points="978.8,180.8 984.1,182.2 986.8,186.2 985.4,190.2 982.1,187.5 979.4,184.2" />
<polygon fill="#e0101c" stroke="#e0101c" stroke-width="0.6" points="982.8,196.8 984.8,198.2 982.1,204.9 980.8,204.6" />
<polygon fill="#430408" stroke="#430408" stroke-width="0.6" points="1000.1,90.0 1021.5,90.0 1024.2,98.0 1022.8,106.0 1020.8,112.7 1019.5,119.4 1018.2,126.1 1016.8,123.4 1016.2,116.7 1013.5,111.4 1009.5,104.7 1005.5,98.0" />
</g>
<g><!-- 60_seasia.py -->
<polygon fill="#7c0a0e" stroke="#7c0a0e" stroke-width="0.6" points="840.0,180.0 956.9,180.0 959.4,188.3 956.9,196.7 955.2,205.0 950.2,213.4 943.5,218.4 936.8,221.7 931.0,223.4 926.8,225.9 921.8,224.2 916.0,221.7 911.8,217.6 906.8,218.4 901.8,220.1 897.6,222.6 893.4,220.1 890.1,215.1 887.6,210.1 886.7,203.4 884.2,199.2 880.9,197.5 875.9,195.9 870.1,195.0 860.0,196.7 851.7,198.4 840.0,195.9" />
<polygon fill="#7c0a0e" stroke="#7c0a0e" stroke-width="0.6" points="924.3,230.1 928.5,228.4 931.0,230.9 929.3,235.1 925.1,235.9 923.1,233.4" />
<polygon fill="#f7b818" stroke="#f7b818" stroke-width="0.6" points="958.9,210.1 962.7,209.2 963.2,215.1 961.0,221.7 958.5,218.4 957.7,213.4" />
<polygon fill="#f7b918" stroke="#f7b918" stroke-width="0.6" points="840.0,196.7 851.7,199.2 853.4,203.4 848.3,204.2 840.0,200.9" />
<polygon fill="#3cb52a" stroke="#3cb52a" stroke-width="0.6" points="840.0,200.9 848.3,204.2 853.4,203.4 851.7,199.2 860.0,196.7 870.1,195.0 875.9,195.9 880.9,197.5 878.4,203.4 875.1,210.1 871.7,216.7 870.1,222.6 865.0,223.4 856.7,225.1 850.0,230.1 845.0,236.8 840.0,240.1" />
<polygon fill="#e82a18" stroke="#e82a18" stroke-width="0.6" points="880.9,197.5 884.2,199.2 886.7,203.4 887.6,210.1 890.1,215.1 893.4,220.1 897.6,222.6 895.1,226.7 890.1,230.1 887.6,235.1 890.1,241.8 893.4,250.1 895.1,258.5 895.1,263.5 892.6,263.5 890.9,256.8 888.4,248.4 885.1,243.4 881.7,245.1 877.6,241.8 876.7,235.1 873.4,230.1 870.1,225.1 870.1,222.6 871.7,216.7 875.1,210.1 878.4,203.4" />
<polygon fill="#f7b018" stroke="#f7b018" stroke-width="0.6" points="890.1,230.1 895.1,226.7 897.6,222.6 901.8,220.1 903.4,228.4 908.4,230.1 913.5,235.1 918.5,241.8 920.1,246.8 915.1,250.1 910.1,251.0 906.8,253.5 903.4,255.1 898.4,256.0 895.9,258.5 896.8,265.1 898.4,271.0 901.8,276.8 905.1,280.2 901.8,281.0 897.6,276.8 894.3,271.0 893.4,263.5 895.1,258.5 893.4,250.1 890.1,241.8 887.6,235.1" />
<polygon fill="#f0401a" stroke="#f0401a" stroke-width="0.6" points="901.8,220.1 906.8,218.4 911.8,217.6 916.0,221.7 919.3,225.1 916.8,228.4 915.1,233.4 918.5,238.4 923.5,245.1 927.6,251.8 929.3,258.5 926.8,263.5 921.8,266.8 916.8,270.2 914.3,271.8 914.3,266.8 918.5,263.5 922.6,258.5 921.8,251.8 918.5,246.8 918.5,241.8 913.5,235.1 908.4,230.1 903.4,228.4 900.1,224.2" />
<polygon fill="#f7e014" stroke="#f7e014" stroke-width="0.6" points="906.8,253.5 910.1,251.0 915.1,250.1 920.1,246.8 921.8,251.8 922.6,258.5 918.5,263.5 914.3,266.0 910.1,264.3 906.8,260.1" />
<polygon fill="#f7e414" stroke="#f7e414" stroke-width="0.6" points="897.6,271.0 902.1,276.0 906.8,279.8 910.5,285.2 913.1,291.9 914.5,298.9 911.0,299.9 906.4,295.5 902.6,288.8 899.8,282.2 896.4,276.8" />
<polygon fill="#f7b018" stroke="#f7b018" stroke-width="0.6" points="893.4,263.5 896.8,265.1 898.4,271.0 901.8,276.8 897.6,276.8 894.3,271.0" />
<polygon fill="#f7e414" stroke="#f7e414" stroke-width="0.6" points="883.4,283.5 888.4,282.7 895.1,288.5 901.8,295.2 908.4,301.9 915.1,309.4 920.1,316.9 921.8,324.1 913.5,324.1 906.8,316.9 900.1,308.5 893.4,300.2 887.6,291.9 883.7,286.8" />
<polygon fill="#f7e414" stroke="#f7e414" stroke-width="0.6" points="930.2,298.5 936.8,295.2 943.5,291.9 949.3,286.8 955.2,280.2 960.2,277.7 964.4,283.5 962.7,290.2 960.2,296.9 961.9,301.9 956.9,306.9 955.2,313.6 948.5,318.6 940.2,318.6 934.3,313.6 931.0,306.9" />
<polygon fill="#3cb52a" stroke="#3cb52a" stroke-width="0.6" points="946.8,286.0 949.3,285.2 949.8,287.2 947.3,288.0" />
<polygon fill="#f7e414" stroke="#f7e414" stroke-width="0.6" points="962.7,233.4 969.4,234.3 971.9,240.1 970.2,246.8 973.6,251.8 979.4,253.5 977.7,257.1 971.9,256.5 967.2,253.5 964.4,246.8 961.5,239.3" />
<polygon fill="#f7e414" stroke="#f7e414" stroke-width="0.6" points="971.9,258.5 981.1,256.5 985.2,263.5 988.2,270.2 987.7,279.3 983.9,283.8 978.6,281.0 976.1,274.3 973.6,267.6 971.6,262.6" />
<polygon fill="#f7e414" stroke="#f7e414" stroke-width="0.6" points="955.2,275.2 962.7,263.5 964.4,264.3 956.9,276.5" />
<polygon fill="#f7e414" stroke="#f7e414" stroke-width="0.6" points="968.5,258.5 971.9,260.1 971.1,263.5 968.2,262.6" />
<polygon fill="#f7e414" stroke="#f7e414" stroke-width="0.6" points="971.9,266.8 975.2,268.5 974.4,275.2 971.6,273.5" />
<polygon fill="#f7e414" stroke="#f7e414" stroke-width="0.6" points="966.9,300.2 973.6,298.5 981.9,297.7 983.6,299.4 975.2,301.9 971.9,305.2 975.2,311.9 973.6,318.6 970.2,313.6 968.5,308.5 965.2,311.9 966.0,318.6 963.5,318.6 962.7,310.2 964.4,304.4" />
<polygon fill="#f7e414" stroke="#f7e414" stroke-width="0.6" points="991.1,296.9 994.4,295.2 995.3,301.9 992.8,306.9 991.1,303.5" />
<polygon fill="#f7e414" stroke="#f7e414" stroke-width="0.6" points="986.1,316.1 989.4,315.6 989.4,318.2 986.1,318.6" />
<polygon fill="#f7e414" stroke="#f7e414" stroke-width="0.6" points="993.6,315.6 998.6,316.1 998.6,318.2 993.6,317.9" />
<polygon fill="#f7e414" stroke="#f7e414" stroke-width="0.6" points="1000.3,305.2 1006.9,304.4 1013.6,308.5 1020.3,310.2 1028.6,311.9 1035.3,313.6 1035.3,324.1 1020.3,324.1 1013.6,318.6 1008.6,313.6 1003.6,310.2" />
<polygon fill="#3cb52a" stroke="#3cb52a" stroke-width="0.6" points="1035.3,313.6 1040.0,314.4 1040.0,324.1 1035.3,324.1" />
<polygon fill="#e0101c" stroke="#e0101c" stroke-width="0.6" points="976.1,180.0 990.3,180.0 987.7,183.3 985.2,187.5 981.9,185.8 978.6,182.5" />
<polygon fill="#e0101c" stroke="#e0101c" stroke-width="0.6" points="981.6,198.4 983.6,197.5 982.2,205.0 980.6,205.9" />
<polygon fill="#3cb52a" stroke="#3cb52a" stroke-width="0.6" points="874.2,253.5 875.4,253.5 875.1,260.1 873.9,260.1" />
<polygon fill="#3cb52a" stroke="#3cb52a" stroke-width="0.6" points="878.4,273.5 879.6,273.5 880.1,276.8 878.7,276.8" />
</g>
<g><!-- 61_oceania.py -->
<polygon fill="#f56216" stroke="#f56216" stroke-width="0.6" points="931.3,432.7 933.8,425.2 936.3,415.2 933.8,402.7 937.6,390.2 942.6,385.2 955.1,380.2 965.1,375.1 972.7,367.6 980.2,362.6 985.2,356.4 992.7,357.6 997.7,348.8 1005.2,346.3 1012.7,348.8 1017.7,346.3 1019.0,351.4 1015.2,357.6 1020.2,361.4 1030.3,367.6 1034.0,357.6 1036.5,347.6 1038.3,342.6 1041.5,352.6 1045.3,361.4 1050.3,372.6 1055.3,385.2 1061.6,395.2 1064.1,405.2 1060.3,417.7 1055.3,427.7 1050.3,437.7 1042.8,445.3 1032.8,450.3 1025.2,451.5 1016.5,450.3 1007.7,447.8 1004.0,440.3 1002.7,432.7 997.7,437.7 995.2,430.2 990.2,424.0 980.2,422.7 967.6,424.0 955.1,429.0 945.1,434.0 937.6,436.5" />
<polygon fill="#f56216" stroke="#f56216" stroke-width="0.6" points="1010.2,454.0 1016.5,455.3 1024.0,452.8 1022.7,460.3 1016.5,465.3 1011.5,468.3 1009.0,461.5" />
<polygon fill="#f7e014" stroke="#f7e014" stroke-width="0.6" points="1111.6,434.0 1115.4,435.2 1116.6,442.8 1122.9,446.5 1117.9,450.3 1111.6,454.0 1106.6,457.8 1102.9,460.3 1101.6,455.3 1106.6,450.3 1110.4,442.8" />
<polygon fill="#f7e014" stroke="#f7e014" stroke-width="0.6" points="1100.4,456.5 1104.1,461.5 1095.4,466.5 1085.3,471.6 1075.3,477.8 1065.3,481.6 1064.1,476.6 1072.8,471.6 1082.8,466.5 1092.9,461.5" />
<polygon fill="#3cb52a" stroke="#3cb52a" stroke-width="0.6" points="1036.5,313.8 1045.3,315.0 1052.8,320.1 1060.3,327.6 1057.8,332.6 1065.3,338.8 1067.8,343.8 1060.3,342.6 1052.8,338.8 1045.3,336.3 1035.3,338.8" />
<polygon fill="#3cb52a" stroke="#3cb52a" stroke-width="0.6" points="1066.6,313.8 1074.1,315.0 1075.3,320.1 1070.3,325.1 1062.8,327.6 1059.0,326.3 1065.3,323.8 1071.6,320.1 1070.3,317.0" />
<polygon fill="#3cb52a" stroke="#3cb52a" stroke-width="0.6" points="1079.1,321.3 1085.3,327.6 1092.9,333.8 1100.4,338.8 1104.1,343.8 1100.4,345.1 1092.9,338.8 1085.3,332.6 1079.1,325.1" />
<polygon fill="#f7e414" stroke="#f7e414" stroke-width="0.6" points="1000.2,305.0 1010.2,306.3 1020.2,311.3 1030.3,312.5 1036.5,313.8 1035.3,338.8 1027.7,335.1 1022.7,327.6 1015.2,322.6 1007.7,316.3 1002.7,311.3" />
<polygon fill="#f58a1a" stroke="#f58a1a" stroke-width="0.6" points="1116.6,356.4 1120.4,357.6 1121.7,367.6 1119.2,372.6 1117.9,365.1" />
<polygon fill="#f0601a" stroke="#f0601a" stroke-width="0.6" points="1102.9,380.2 1106.6,379.7 1112.9,386.4 1114.1,388.9 1109.1,387.7" />
<polygon fill="#f7e414" stroke="#f7e414" stroke-width="0.6" points="1149.2,367.6 1158.0,364.6 1159.2,367.6 1151.7,372.6 1149.2,375.1" />
<polygon fill="#f7e414" stroke="#f7e414" stroke-width="0.6" points="918.8,327.6 930.1,331.3 945.1,333.8 962.6,336.3 967.6,338.8 955.1,338.8 940.1,337.6 925.1,333.8" />
<polygon fill="#f7e414" stroke="#f7e414" stroke-width="0.6" points="962.6,338.8 980.2,336.3 985.2,337.6 975.2,341.3 965.1,342.6" />
<polygon fill="#f7e414" stroke="#f7e414" stroke-width="0.6" points="975.2,340.1 990.2,335.1 991.4,337.6 978.9,343.1" />
<polygon fill="#bbbbbb" stroke="#bbbbbb" stroke-width="0.6" points="983.9,335.8 990.2,335.1 990.7,337.1 984.7,338.1" />
<polygon fill="#f7e414" stroke="#f7e414" stroke-width="0.6" points="890.0,290.0 900.0,297.5 910.1,307.5 917.6,317.5 920.1,325.1 913.8,323.8 905.0,315.0 895.0,302.5 887.5,292.5" />
<polygon fill="#f7e414" stroke="#f7e414" stroke-width="0.6" points="930.1,300.0 940.1,295.0 955.1,292.5 962.6,300.0 957.6,312.5 950.1,317.5 940.1,317.5 932.6,311.3" />
<polygon fill="#f7e414" stroke="#f7e414" stroke-width="0.6" points="966.4,305.0 980.2,298.8 983.9,301.3 972.7,308.8 976.4,317.5 978.9,326.3 973.9,325.1 970.2,315.0 967.6,325.1 963.9,322.6 965.1,312.5" />
<polygon fill="#f7e414" stroke="#f7e414" stroke-width="0.6" points="991.4,296.3 995.2,295.0 996.4,305.0 992.7,307.5" />
<polygon fill="#f7e414" stroke="#f7e414" stroke-width="0.6" points="985.2,316.3 997.7,313.8 998.9,316.3 986.4,318.8" />
</g>
</g>
<path d="M283.3,607.1 L272.2,604.0 L259.4,599.8 L245.2,594.7 L230.1,588.7 L214.3,582.0 L199.0,574.8 L184.9,567.3 L171.9,559.6 L159.4,551.6 L147.3,543.5 L135.5,535.1 L124.0,526.6 L112.9,517.9 L102.3,509.0 L92.1,500.1 L82.6,491.0 L73.9,481.9 L65.7,472.7 L57.8,463.4 L50.5,454.1 L43.9,444.7 L37.9,435.3 L32.4,425.9 L27.5,416.5 L23.3,407.1 L19.7,397.7 L16.8,388.3 L14.2,378.9 L11.8,369.5 L9.6,360.1 L7.8,350.6 L6.4,341.2 L5.2,331.8 L4.4,322.4 L3.9,313.0 L3.6,303.6 L3.9,294.2 L4.4,284.8 L5.2,275.4 L6.4,266.0 L7.8,256.6 L9.6,247.1 L11.8,237.7 L14.2,228.3 L16.8,218.9 L19.7,209.5 L23.3,200.1 L27.5,190.7 L32.4,181.3 L37.9,171.9 L43.9,162.5 L50.5,153.1 L57.8,143.8 L65.7,134.5 L73.9,125.3 L82.6,116.2 L92.1,107.1 L102.3,98.2 L112.9,89.3 L124.0,80.6 L135.5,72.1 L147.3,63.7 L159.4,55.6 L171.9,47.6 L184.9,39.9 L199.0,32.4 L214.3,25.2 L230.1,18.5 L245.2,12.5 L259.4,7.4 L272.2,3.2 L283.3,0.1 L919.9,0.1 L931.0,3.2 L943.8,7.4 L958.0,12.5 L973.1,18.5 L988.9,25.2 L1004.2,32.4 L1018.3,39.9 L1031.3,47.6 L1043.8,55.6 L1055.9,63.7 L1067.7,72.1 L1079.2,80.6 L1090.3,89.3 L1100.9,98.2 L1111.1,107.1 L1120.6,116.2 L1129.3,125.3 L1137.5,134.5 L1145.4,143.8 L1152.7,153.1 L1159.3,162.5 L1165.3,171.9 L1170.8,181.3 L1175.7,190.7 L1179.9,200.1 L1183.5,209.5 L1186.4,218.9 L1189.0,228.3 L1191.4,237.7 L1193.6,247.1 L1195.4,256.6 L1196.8,266.0 L1198.0,275.4 L1198.8,284.8 L1199.3,294.2 L1199.6,303.6 L1199.3,313.0 L1198.8,322.4 L1198.0,331.8 L1196.8,341.2 L1195.4,350.6 L1193.6,360.1 L1191.4,369.5 L1189.0,378.9 L1186.4,388.3 L1183.5,397.7 L1179.9,407.1 L1175.7,416.5 L1170.8,425.9 L1165.3,435.3 L1159.3,444.7 L1152.7,454.1 L1145.4,463.4 L1137.5,472.7 L1129.3,481.9 L1120.6,491.0 L1111.1,500.1 L1100.9,509.0 L1090.3,517.9 L1079.2,526.6 L1067.7,535.1 L1055.9,543.5 L1043.8,551.6 L1031.3,559.6 L1018.3,567.3 L1004.2,574.8 L988.9,582.0 L973.1,588.7 L958.0,594.7 L943.8,599.8 L931.0,604.0 L919.9,607.1Z" fill="none" stroke="#555" stroke-width="0.9"/>
<rect x="0" y="0" width="1198" height="1.2" fill="#222"/>
<rect x="115" y="661" width="39" height="32.3" fill="#3db727"/>
<rect x="154" y="661" width="39.3" height="32.3" fill="#1e46bd"/>
<rect x="193" y="661" width="911" height="32.3" fill="url(#bar)"/>
<text transform="translate(164.5,657.3) rotate(-90)" font-size="6.5" fill="#111">▲ cheaper</text>
<text transform="translate(178,657.3) rotate(-90)" font-size="12.5" fill="#111" textLength="33" lengthAdjust="spacingAndGlyphs">France</text>
<text transform="translate(187.5,657.3) rotate(-90)" font-size="6.5" fill="#111">▼ more expensive</text>
<rect x="210.3" y="661" width="0.8" height="40.7" fill="#3a2a2a" fill-opacity="0.75"/>
<path d="M209.3,659.9 L211.3,658.2 L212.1,659.9Z" fill="#666"/>
<text x="209.3" y="656.2" font-size="3.6" font-weight="bold" textLength="2.8" lengthAdjust="spacingAndGlyphs" fill="#222">1.0</text>
<rect x="204.1" y="696.90" width="7.2" height="1.65" fill="#d2232a"/><rect x="204.1" y="698.50" width="7.2" height="1.65" fill="#d2232a"/><rect x="204.1" y="700.10" width="7.2" height="1.65" fill="#d2232a"/>
<rect x="218.6" y="661" width="0.8" height="52.0" fill="#3a2a2a" fill-opacity="0.75"/>
<path d="M217.6,659.9 L219.6,658.2 L220.4,659.9Z" fill="#666"/>
<text x="217.6" y="656.2" font-size="3.6" font-weight="bold" textLength="2.8" lengthAdjust="spacingAndGlyphs" fill="#222">1.1</text>
<rect x="212.4" y="696.90" width="7.2" height="1.65" fill="#d2232a"/><rect x="212.4" y="698.50" width="7.2" height="1.65" fill="#f6d417"/><rect x="212.4" y="700.10" width="7.2" height="1.65" fill="#1f9a3c"/>
<rect x="212.4" y="702.55" width="7.2" height="2.45" fill="#ffffff"/><rect x="212.4" y="704.95" width="7.2" height="2.45" fill="#d2232a"/><rect x="212.4" y="702.5" width="3.2" height="2.6" fill="#1f3f9c"/>
<rect x="212.4" y="708.20" width="7.2" height="1.65" fill="#1f9a3c"/><rect x="212.4" y="709.80" width="7.2" height="1.65" fill="#f6d417"/><rect x="212.4" y="711.40" width="7.2" height="1.65" fill="#1f3f9c"/>
<rect x="220.9" y="661" width="0.8" height="57.6" fill="#3a2a2a" fill-opacity="0.75"/>
<path d="M219.9,659.9 L221.9,658.2 L222.7,659.9Z" fill="#666"/>
<text x="219.9" y="656.2" font-size="3.6" font-weight="bold" textLength="2.8" lengthAdjust="spacingAndGlyphs" fill="#222">1.1</text>
<rect x="214.7" y="713.85" width="7.2" height="1.65" fill="#75aadb"/><rect x="214.7" y="715.45" width="7.2" height="1.65" fill="#75aadb"/><rect x="214.7" y="717.05" width="7.2" height="1.65" fill="#1f9a3c"/>
<rect x="223.7" y="661" width="0.8" height="63.3" fill="#3a2a2a" fill-opacity="0.75"/>
<path d="M222.7,659.9 L224.7,658.2 L225.5,659.9Z" fill="#666"/>
<text x="222.7" y="656.2" font-size="3.6" font-weight="bold" textLength="2.8" lengthAdjust="spacingAndGlyphs" fill="#222">1.1</text>
<rect x="217.5" y="719.50" width="7.2" height="1.25" fill="#d2232a"/><rect x="217.5" y="720.70" width="7.2" height="1.25" fill="#ffffff"/><rect x="217.5" y="721.90" width="7.2" height="1.25" fill="#d2232a"/><rect x="217.5" y="723.10" width="7.2" height="1.25" fill="#ffffff"/><rect x="217.5" y="719.5" width="3.2" height="2.6" fill="#1f3f9c"/>
<rect x="244.3" y="661" width="0.8" height="85.9" fill="#3a2a2a" fill-opacity="0.75"/>
<path d="M243.3,659.9 L245.3,658.2 L246.1,659.9Z" fill="#666"/>
<text x="243.3" y="656.2" font-size="3.6" font-weight="bold" textLength="2.8" lengthAdjust="spacingAndGlyphs" fill="#222">1.2</text>
<rect x="238.10" y="696.9" width="2.45" height="4.8" fill="#1f3f9c"/><rect x="240.50" y="696.9" width="2.45" height="4.8" fill="#f6d417"/><rect x="242.90" y="696.9" width="2.45" height="4.8" fill="#d2232a"/>
<rect x="238.1" y="702.55" width="7.2" height="1.65" fill="#1f3f9c"/><rect x="238.1" y="704.15" width="7.2" height="1.65" fill="#d2232a"/><rect x="238.1" y="705.75" width="7.2" height="1.65" fill="#1f3f9c"/>
<rect x="238.10" y="708.2" width="2.45" height="4.8" fill="#f28c28"/><rect x="240.50" y="708.2" width="2.45" height="4.8" fill="#ffffff"/><rect x="242.90" y="708.2" width="2.45" height="4.8" fill="#1f9a3c"/>
<rect x="238.1" y="713.85" width="7.2" height="1.65" fill="#d2232a"/><rect x="238.1" y="715.45" width="7.2" height="1.65" fill="#ffffff"/><rect x="238.1" y="717.05" width="7.2" height="1.65" fill="#111111"/>
<rect x="238.1" y="719.5" width="7.2" height="4.8" fill="#d2232a"/><circle cx="241.7" cy="721.9" r="1.2" fill="#ffffff"/>
<rect x="238.10" y="725.1" width="2.45" height="4.8" fill="#75aadb"/><rect x="240.50" y="725.1" width="2.45" height="4.8" fill="#ffffff"/><rect x="242.90" y="725.1" width="2.45" height="4.8" fill="#75aadb"/>
<rect x="238.1" y="730.80" width="7.2" height="1.65" fill="#d2232a"/><rect x="238.1" y="732.40" width="7.2" height="1.65" fill="#ffffff"/><rect x="238.1" y="734.00" width="7.2" height="1.65" fill="#d2232a"/>
<rect x="238.10" y="736.4" width="2.45" height="4.8" fill="#1f9a3c"/><rect x="240.50" y="736.4" width="2.45" height="4.8" fill="#ffffff"/><rect x="242.90" y="736.4" width="2.45" height="4.8" fill="#1f9a3c"/>
<rect x="238.10" y="742.1" width="2.45" height="4.8" fill="#f28c28"/><rect x="240.50" y="742.1" width="2.45" height="4.8" fill="#8b1a1a"/><rect x="242.90" y="742.1" width="2.45" height="4.8" fill="#8b1a1a"/>
<rect x="249.7" y="661" width="0.8" height="91.5" fill="#3a2a2a" fill-opacity="0.75"/>
<path d="M248.7,659.9 L250.7,658.2 L251.5,659.9Z" fill="#666"/>
<text x="248.7" y="656.2" font-size="3.6" font-weight="bold" textLength="2.8" lengthAdjust="spacingAndGlyphs" fill="#222">1.2</text>
<rect x="243.5" y="747.75" width="7.2" height="1.65" fill="#75aadb"/><rect x="243.5" y="749.35" width="7.2" height="1.65" fill="#ffffff"/><rect x="243.5" y="750.95" width="7.2" height="1.65" fill="#75aadb"/>
<rect x="254.7" y="661" width="0.8" height="97.2" fill="#3a2a2a" fill-opacity="0.75"/>
<path d="M253.7,659.9 L255.7,658.2 L256.5,659.9Z" fill="#666"/>
<text x="253.7" y="656.2" font-size="3.6" font-weight="bold" textLength="2.8" lengthAdjust="spacingAndGlyphs" fill="#222">1.2</text>
<rect x="248.5" y="753.40" width="7.2" height="1.65" fill="#d2232a"/><rect x="248.5" y="755.00" width="7.2" height="1.65" fill="#f6d417"/><rect x="248.5" y="756.60" width="7.2" height="1.65" fill="#1f9a3c"/>
<rect x="257.8" y="661" width="0.8" height="102.8" fill="#3a2a2a" fill-opacity="0.75"/>
<path d="M256.8,659.9 L258.8,658.2 L259.6,659.9Z" fill="#666"/>
<text x="256.8" y="656.2" font-size="3.6" font-weight="bold" textLength="2.8" lengthAdjust="spacingAndGlyphs" fill="#222">1.2</text>
<rect x="251.6" y="759.0" width="7.2" height="4.8" fill="#1f9a3c"/><circle cx="255.2" cy="761.4" r="1.2" fill="#f6d417"/>
<rect x="265.1" y="661" width="0.8" height="40.7" fill="#3a2a2a" fill-opacity="0.75"/>
<path d="M264.1,659.9 L266.1,658.2 L266.9,659.9Z" fill="#666"/>
<text x="264.1" y="656.2" font-size="3.6" font-weight="bold" textLength="2.8" lengthAdjust="spacingAndGlyphs" fill="#222">1.2</text>
<rect x="258.9" y="696.90" width="7.2" height="2.45" fill="#1f3f9c"/><rect x="258.9" y="699.30" width="7.2" height="2.45" fill="#d2232a"/><rect x="258.9" y="696.9" width="3.2" height="2.6" fill="#ffffff"/>
<rect x="270.4" y="661" width="0.8" height="68.9" fill="#3a2a2a" fill-opacity="0.75"/>
<path d="M269.4,659.9 L271.4,658.2 L272.2,659.9Z" fill="#666"/>
<text x="269.4" y="656.2" font-size="3.6" font-weight="bold" textLength="2.8" lengthAdjust="spacingAndGlyphs" fill="#222">1.3</text>
<rect x="264.2" y="702.5" width="7.2" height="4.8" fill="#ffffff"/><rect x="266.4" y="702.5" width="1.2" height="4.8" fill="#1f3f9c"/><rect x="264.2" y="704.3" width="7.2" height="1.2" fill="#1f3f9c"/>
<rect x="264.2" y="708.20" width="7.2" height="1.25" fill="#75aadb"/><rect x="264.2" y="709.40" width="7.2" height="1.25" fill="#ffffff"/><rect x="264.2" y="710.60" width="7.2" height="1.25" fill="#75aadb"/><rect x="264.2" y="711.80" width="7.2" height="1.25" fill="#ffffff"/><rect x="264.2" y="708.2" width="3.2" height="2.6" fill="#1f3f9c"/>
<rect x="264.2" y="713.85" width="7.2" height="1.65" fill="#75aadb"/><rect x="264.2" y="715.45" width="7.2" height="1.65" fill="#75aadb"/><rect x="264.2" y="717.05" width="7.2" height="1.65" fill="#75aadb"/>
<rect x="264.2" y="719.50" width="7.2" height="2.45" fill="#14245e"/><rect x="264.2" y="721.90" width="7.2" height="2.45" fill="#14245e"/><rect x="264.2" y="719.5" width="3.2" height="2.6" fill="#d2232a"/>
<rect x="264.2" y="725.15" width="7.2" height="1.01" fill="#d2232a"/><rect x="264.2" y="726.11" width="7.2" height="1.01" fill="#ffffff"/><rect x="264.2" y="727.07" width="7.2" height="1.01" fill="#1f3f9c"/><rect x="264.2" y="728.03" width="7.2" height="1.01" fill="#ffffff"/><rect x="264.2" y="728.99" width="7.2" height="1.01" fill="#d2232a"/>
<rect x="278.5" y="661" width="0.8" height="40.7" fill="#3a2a2a" fill-opacity="0.75"/>
<path d="M277.5,659.9 L279.5,658.2 L280.3,659.9Z" fill="#666"/>
<text x="277.5" y="656.2" font-size="3.6" font-weight="bold" textLength="2.8" lengthAdjust="spacingAndGlyphs" fill="#222">1.3</text>
<rect x="272.3" y="696.9" width="7.2" height="4.8" fill="#1f3f9c"/><rect x="274.5" y="696.9" width="1.2" height="4.8" fill="#ffffff"/><rect x="272.3" y="698.7" width="7.2" height="1.2" fill="#ffffff"/>
<rect x="283.5" y="661" width="0.8" height="46.3" fill="#3a2a2a" fill-opacity="0.75"/>
<path d="M282.5,659.9 L284.5,658.2 L285.3,659.9Z" fill="#666"/>
<text x="282.5" y="656.2" font-size="3.6" font-weight="bold" textLength="2.8" lengthAdjust="spacingAndGlyphs" fill="#222">1.3</text>
<rect x="277.30" y="702.5" width="2.45" height="4.8" fill="#1f3f9c"/><rect x="279.70" y="702.5" width="2.45" height="4.8" fill="#ffffff"/><rect x="282.10" y="702.5" width="2.45" height="4.8" fill="#d2232a"/>
<rect x="294.1" y="661" width="0.8" height="40.7" fill="#3a2a2a" fill-opacity="0.75"/>
<path d="M293.1,659.9 L295.1,658.2 L295.9,659.9Z" fill="#666"/>
<text x="293.1" y="656.2" font-size="3.6" font-weight="bold" textLength="2.8" lengthAdjust="spacingAndGlyphs" fill="#222">1.3</text>
<rect x="287.90" y="696.9" width="2.45" height="4.8" fill="#1f9a3c"/><rect x="290.30" y="696.9" width="2.45" height="4.8" fill="#f6d417"/><rect x="292.70" y="696.9" width="2.45" height="4.8" fill="#d2232a"/>
<rect x="296.7" y="661" width="0.8" height="57.6" fill="#3a2a2a" fill-opacity="0.75"/>
<path d="M295.7,659.9 L297.7,658.2 L298.5,659.9Z" fill="#666"/>
<text x="295.7" y="656.2" font-size="3.6" font-weight="bold" textLength="2.8" lengthAdjust="spacingAndGlyphs" fill="#222">1.4</text>
<rect x="290.50" y="702.5" width="2.45" height="4.8" fill="#111111"/><rect x="292.90" y="702.5" width="2.45" height="4.8" fill="#f6d417"/><rect x="295.30" y="702.5" width="2.45" height="4.8" fill="#d2232a"/>
<rect x="290.5" y="708.20" width="7.2" height="1.65" fill="#75aadb"/><rect x="290.5" y="709.80" width="7.2" height="1.65" fill="#ffffff"/><rect x="290.5" y="711.40" width="7.2" height="1.65" fill="#75aadb"/>
<rect x="290.5" y="713.85" width="7.2" height="1.65" fill="#d2232a"/><rect x="290.5" y="715.45" width="7.2" height="1.65" fill="#ffffff"/><rect x="290.5" y="717.05" width="7.2" height="1.65" fill="#111111"/>
<rect x="304.2" y="661" width="0.8" height="46.3" fill="#3a2a2a" fill-opacity="0.75"/>
<path d="M303.2,659.9 L305.2,658.2 L306.0,659.9Z" fill="#666"/>
<text x="303.2" y="656.2" font-size="3.6" font-weight="bold" textLength="2.8" lengthAdjust="spacingAndGlyphs" fill="#222">1.4</text>
<rect x="298.0" y="696.90" width="7.2" height="1.25" fill="#d2232a"/><rect x="298.0" y="698.10" width="7.2" height="1.25" fill="#ffffff"/><rect x="298.0" y="699.30" width="7.2" height="1.25" fill="#d2232a"/><rect x="298.0" y="700.50" width="7.2" height="1.25" fill="#ffffff"/>
<rect x="298.0" y="702.55" width="7.2" height="1.25" fill="#d2232a"/><rect x="298.0" y="703.75" width="7.2" height="1.25" fill="#ffffff"/><rect x="298.0" y="704.95" width="7.2" height="1.25" fill="#d2232a"/><rect x="298.0" y="706.15" width="7.2" height="1.25" fill="#1f3f9c"/>
<rect x="320.4" y="661" width="0.8" height="40.7" fill="#3a2a2a" fill-opacity="0.75"/>
<path d="M319.4,659.9 L321.4,658.2 L322.2,659.9Z" fill="#666"/>
<text x="319.4" y="656.2" font-size="3.6" font-weight="bold" textLength="2.8" lengthAdjust="spacingAndGlyphs" fill="#222">1.4</text>
<rect x="314.2" y="696.90" width="7.2" height="1.01" fill="#d2232a"/><rect x="314.2" y="697.86" width="7.2" height="1.01" fill="#ffffff"/><rect x="314.2" y="698.82" width="7.2" height="1.01" fill="#1f3f9c"/><rect x="314.2" y="699.78" width="7.2" height="1.01" fill="#ffffff"/><rect x="314.2" y="700.74" width="7.2" height="1.01" fill="#d2232a"/>
<rect x="322.9" y="661" width="0.8" height="153.7" fill="#3a2a2a" fill-opacity="0.75"/>
<path d="M321.9,659.9 L323.9,658.2 L324.7,659.9Z" fill="#666"/>
<text x="321.9" y="656.2" font-size="3.6" font-weight="bold" textLength="2.8" lengthAdjust="spacingAndGlyphs" fill="#222">1.5</text>
<rect x="316.7" y="702.55" width="7.2" height="1.65" fill="#1f3f9c"/><rect x="316.7" y="704.15" width="7.2" height="1.65" fill="#d2232a"/><rect x="316.7" y="705.75" width="7.2" height="1.65" fill="#f6d417"/>
<rect x="316.7" y="708.20" width="7.2" height="1.65" fill="#1f3f9c"/><rect x="316.7" y="709.80" width="7.2" height="1.65" fill="#1f3f9c"/><rect x="316.7" y="711.40" width="7.2" height="1.65" fill="#d2232a"/>
<rect x="316.70" y="713.9" width="2.45" height="4.8" fill="#111111"/><rect x="319.10" y="713.9" width="2.45" height="4.8" fill="#f6d417"/><rect x="321.50" y="713.9" width="2.45" height="4.8" fill="#d2232a"/>
<rect x="316.7" y="719.50" width="7.2" height="1.65" fill="#d2232a"/><rect x="316.7" y="721.10" width="7.2" height="1.65" fill="#d2232a"/><rect x="316.7" y="722.70" width="7.2" height="1.65" fill="#1f9a3c"/>
<rect x="316.7" y="725.15" width="7.2" height="1.65" fill="#ffffff"/><rect x="316.7" y="726.75" width="7.2" height="1.65" fill="#ffffff"/><rect x="316.7" y="728.35" width="7.2" height="1.65" fill="#f6d417"/>
<rect x="316.7" y="730.80" width="7.2" height="1.65" fill="#1f9a3c"/><rect x="316.7" y="732.40" width="7.2" height="1.65" fill="#f6d417"/><rect x="316.7" y="734.00" width="7.2" height="1.65" fill="#d2232a"/>
<rect x="316.7" y="736.45" width="7.2" height="1.65" fill="#14245e"/><rect x="316.7" y="738.05" width="7.2" height="1.65" fill="#ffffff"/><rect x="316.7" y="739.65" width="7.2" height="1.65" fill="#1f9a3c"/>
<rect x="316.7" y="742.10" width="7.2" height="1.65" fill="#1f9a3c"/><rect x="316.7" y="743.70" width="7.2" height="1.65" fill="#ffffff"/><rect x="316.7" y="745.30" width="7.2" height="1.65" fill="#1f9a3c"/>
<rect x="316.7" y="747.8" width="7.2" height="4.8" fill="#ffffff"/><rect x="318.9" y="747.8" width="1.2" height="4.8" fill="#d2232a"/><rect x="316.7" y="749.5" width="7.2" height="1.2" fill="#d2232a"/>
<rect x="316.7" y="753.40" width="7.2" height="1.65" fill="#d2232a"/><rect x="316.7" y="755.00" width="7.2" height="1.65" fill="#1f3f9c"/><rect x="316.7" y="756.60" width="7.2" height="1.65" fill="#d2232a"/>
<rect x="316.7" y="759.05" width="7.2" height="1.65" fill="#1f9a3c"/><rect x="316.7" y="760.65" width="7.2" height="1.65" fill="#d2232a"/><rect x="316.7" y="762.25" width="7.2" height="1.65" fill="#ffffff"/>
<rect x="316.7" y="764.70" width="7.2" height="1.65" fill="#75aadb"/><rect x="316.7" y="766.30" width="7.2" height="1.65" fill="#75aadb"/><rect x="316.7" y="767.90" width="7.2" height="1.65" fill="#f6d417"/>
<rect x="316.7" y="770.35" width="7.2" height="1.65" fill="#d2232a"/><rect x="316.7" y="771.95" width="7.2" height="1.65" fill="#ffffff"/><rect x="316.7" y="773.55" width="7.2" height="1.65" fill="#d2232a"/>
<rect x="316.7" y="776.00" width="7.2" height="1.65" fill="#f6d417"/><rect x="316.7" y="777.60" width="7.2" height="1.65" fill="#f6d417"/><rect x="316.7" y="779.20" width="7.2" height="1.65" fill="#d2232a"/>
<rect x="316.7" y="781.65" width="7.2" height="1.65" fill="#1f9a3c"/><rect x="316.7" y="783.25" width="7.2" height="1.65" fill="#f6d417"/><rect x="316.7" y="784.85" width="7.2" height="1.65" fill="#d2232a"/>
<rect x="316.7" y="787.30" width="7.2" height="1.65" fill="#d2232a"/><rect x="316.7" y="788.90" width="7.2" height="1.65" fill="#ffffff"/><rect x="316.7" y="790.50" width="7.2" height="1.65" fill="#d2232a"/>
<rect x="316.7" y="792.95" width="7.2" height="1.65" fill="#75aadb"/><rect x="316.7" y="794.55" width="7.2" height="1.65" fill="#ffffff"/><rect x="316.7" y="796.15" width="7.2" height="1.65" fill="#75aadb"/>
<rect x="316.7" y="798.60" width="7.2" height="1.65" fill="#1f3f9c"/><rect x="316.7" y="800.20" width="7.2" height="1.65" fill="#d2232a"/><rect x="316.7" y="801.80" width="7.2" height="1.65" fill="#1f3f9c"/>
<rect x="316.70" y="804.2" width="2.45" height="4.8" fill="#d2232a"/><rect x="319.10" y="804.2" width="2.45" height="4.8" fill="#ffffff"/><rect x="321.50" y="804.2" width="2.45" height="4.8" fill="#1f3f9c"/>
<rect x="316.7" y="809.90" width="7.2" height="1.65" fill="#f6d417"/><rect x="316.7" y="811.50" width="7.2" height="1.65" fill="#1f9a3c"/><rect x="316.7" y="813.10" width="7.2" height="1.65" fill="#f6d417"/>
<rect x="330.5" y="661" width="0.8" height="40.7" fill="#3a2a2a" fill-opacity="0.75"/>
<path d="M329.5,659.9 L331.5,658.2 L332.3,659.9Z" fill="#666"/>
<text x="329.5" y="656.2" font-size="3.6" font-weight="bold" textLength="2.8" lengthAdjust="spacingAndGlyphs" fill="#222">1.5</text>
<rect x="324.3" y="696.90" width="7.2" height="2.45" fill="#d2232a"/><rect x="324.3" y="699.30" width="7.2" height="2.45" fill="#d2232a"/><rect x="324.3" y="696.9" width="3.2" height="2.6" fill="#1f3f9c"/>
<rect x="349.3" y="661" width="0.8" height="74.6" fill="#3a2a2a" fill-opacity="0.75"/>
<path d="M348.3,659.9 L350.3,658.2 L351.1,659.9Z" fill="#666"/>
<text x="348.3" y="656.2" font-size="3.6" font-weight="bold" textLength="2.8" lengthAdjust="spacingAndGlyphs" fill="#222">1.6</text>
<rect x="343.1" y="696.90" width="7.2" height="1.65" fill="#d2232a"/><rect x="343.1" y="698.50" width="7.2" height="1.65" fill="#ffffff"/><rect x="343.1" y="700.10" width="7.2" height="1.65" fill="#1f9a3c"/>
<rect x="343.10" y="702.5" width="2.45" height="4.8" fill="#1f9a3c"/><rect x="345.50" y="702.5" width="2.45" height="4.8" fill="#ffffff"/><rect x="347.90" y="702.5" width="2.45" height="4.8" fill="#f28c28"/>
<rect x="343.1" y="708.2" width="7.2" height="4.8" fill="#1f3f9c"/><circle cx="346.7" cy="710.6" r="1.2" fill="#ffffff"/>
<rect x="343.1" y="713.9" width="7.2" height="4.8" fill="#14245e"/><circle cx="346.7" cy="716.2" r="1.2" fill="#ffffff"/>
<rect x="343.1" y="719.5" width="7.2" height="4.8" fill="#d2232a"/><rect x="345.3" y="719.5" width="1.2" height="4.8" fill="#1f3f9c"/><rect x="343.1" y="721.3" width="7.2" height="1.2" fill="#1f3f9c"/>
<rect x="343.1" y="725.15" width="7.2" height="1.65" fill="#1f3f9c"/><rect x="343.1" y="726.75" width="7.2" height="1.65" fill="#d2232a"/><rect x="343.1" y="728.35" width="7.2" height="1.65" fill="#1f3f9c"/>
<rect x="343.1" y="730.80" width="7.2" height="1.65" fill="#ffffff"/><rect x="343.1" y="732.40" width="7.2" height="1.65" fill="#1f3f9c"/><rect x="343.1" y="734.00" width="7.2" height="1.65" fill="#d2232a"/>
<rect x="354.3" y="661" width="0.8" height="80.2" fill="#3a2a2a" fill-opacity="0.75"/>
<path d="M353.3,659.9 L355.3,658.2 L356.1,659.9Z" fill="#666"/>
<text x="353.3" y="656.2" font-size="3.6" font-weight="bold" textLength="2.8" lengthAdjust="spacingAndGlyphs" fill="#222">1.6</text>
<rect x="348.10" y="736.4" width="2.45" height="4.8" fill="#d2232a"/><rect x="350.50" y="736.4" width="2.45" height="4.8" fill="#ffffff"/><rect x="352.90" y="736.4" width="2.45" height="4.8" fill="#d2232a"/>
<rect x="362.2" y="661" width="0.8" height="40.7" fill="#3a2a2a" fill-opacity="0.75"/>
<path d="M361.2,659.9 L363.2,658.2 L364.0,659.9Z" fill="#666"/>
<text x="361.2" y="656.2" font-size="3.6" font-weight="bold" textLength="2.8" lengthAdjust="spacingAndGlyphs" fill="#222">1.6</text>
<rect x="356.0" y="696.90" width="7.2" height="1.01" fill="#d2232a"/><rect x="356.0" y="697.86" width="7.2" height="1.01" fill="#ffffff"/><rect x="356.0" y="698.82" width="7.2" height="1.01" fill="#1f3f9c"/><rect x="356.0" y="699.78" width="7.2" height="1.01" fill="#ffffff"/><rect x="356.0" y="700.74" width="7.2" height="1.01" fill="#d2232a"/>
<rect x="375.0" y="661" width="0.8" height="68.9" fill="#3a2a2a" fill-opacity="0.75"/>
<path d="M374.0,659.9 L376.0,658.2 L376.8,659.9Z" fill="#666"/>
<text x="374.0" y="656.2" font-size="3.6" font-weight="bold" textLength="2.8" lengthAdjust="spacingAndGlyphs" fill="#222">1.7</text>
<rect x="368.8" y="696.90" width="7.2" height="1.65" fill="#111111"/><rect x="368.8" y="698.50" width="7.2" height="1.65" fill="#d2232a"/><rect x="368.8" y="700.10" width="7.2" height="1.65" fill="#f6d417"/>
<rect x="368.8" y="702.55" width="7.2" height="1.65" fill="#75aadb"/><rect x="368.8" y="704.15" width="7.2" height="1.65" fill="#ffffff"/><rect x="368.8" y="705.75" width="7.2" height="1.65" fill="#75aadb"/>
<rect x="368.8" y="708.20" width="7.2" height="1.65" fill="#f28c28"/><rect x="368.8" y="709.80" width="7.2" height="1.65" fill="#ffffff"/><rect x="368.8" y="711.40" width="7.2" height="1.65" fill="#1f9a3c"/>
<rect x="368.80" y="713.9" width="2.45" height="4.8" fill="#1f3f9c"/><rect x="371.20" y="713.9" width="2.45" height="4.8" fill="#f6d417"/><rect x="373.60" y="713.9" width="2.45" height="4.8" fill="#d2232a"/>
<rect x="368.8" y="719.50" width="7.2" height="1.65" fill="#1f3f9c"/><rect x="368.8" y="721.10" width="7.2" height="1.65" fill="#ffffff"/><rect x="368.8" y="722.70" width="7.2" height="1.65" fill="#1f3f9c"/>
<rect x="368.8" y="725.15" width="7.2" height="1.65" fill="#d2232a"/><rect x="368.8" y="726.75" width="7.2" height="1.65" fill="#ffffff"/><rect x="368.8" y="728.35" width="7.2" height="1.65" fill="#1f9a3c"/>
<rect x="390.5" y="661" width="0.8" height="40.7" fill="#3a2a2a" fill-opacity="0.75"/>
<path d="M389.5,659.9 L391.5,658.2 L392.3,659.9Z" fill="#666"/>
<text x="389.5" y="656.2" font-size="3.6" font-weight="bold" textLength="2.8" lengthAdjust="spacingAndGlyphs" fill="#222">1.7</text>
<rect x="384.3" y="696.90" width="7.2" height="1.65" fill="#d2232a"/><rect x="384.3" y="698.50" width="7.2" height="1.65" fill="#111111"/><rect x="384.3" y="700.10" width="7.2" height="1.65" fill="#1f9a3c"/>
<rect x="401.1" y="661" width="0.8" height="40.7" fill="#3a2a2a" fill-opacity="0.75"/>
<path d="M400.1,659.9 L402.1,658.2 L402.9,659.9Z" fill="#666"/>
<text x="400.1" y="656.2" font-size="3.6" font-weight="bold" textLength="2.8" lengthAdjust="spacingAndGlyphs" fill="#222">1.8</text>
<rect x="394.9" y="696.90" width="7.2" height="1.65" fill="#d2232a"/><rect x="394.9" y="698.50" width="7.2" height="1.65" fill="#f6d417"/><rect x="394.9" y="700.10" width="7.2" height="1.65" fill="#d2232a"/>
<rect x="424.8" y="661" width="0.8" height="40.7" fill="#3a2a2a" fill-opacity="0.75"/>
<path d="M423.8,659.9 L425.8,658.2 L426.6,659.9Z" fill="#666"/>
<text x="423.8" y="656.2" font-size="3.6" font-weight="bold" textLength="2.8" lengthAdjust="spacingAndGlyphs" fill="#222">1.8</text>
<rect x="418.6" y="696.90" width="7.2" height="1.65" fill="#d2232a"/><rect x="418.6" y="698.50" width="7.2" height="1.65" fill="#ffffff"/><rect x="418.6" y="700.10" width="7.2" height="1.65" fill="#d2232a"/>
<rect x="426.9" y="661" width="0.8" height="102.8" fill="#3a2a2a" fill-opacity="0.75"/>
<path d="M425.9,659.9 L427.9,658.2 L428.7,659.9Z" fill="#666"/>
<text x="425.9" y="656.2" font-size="3.6" font-weight="bold" textLength="2.8" lengthAdjust="spacingAndGlyphs" fill="#222">1.9</text>
<rect x="420.7" y="702.55" width="7.2" height="1.65" fill="#1f3f9c"/><rect x="420.7" y="704.15" width="7.2" height="1.65" fill="#75aadb"/><rect x="420.7" y="705.75" width="7.2" height="1.65" fill="#1f9a3c"/>
<rect x="420.7" y="708.2" width="7.2" height="4.8" fill="#ffffff"/><circle cx="424.3" cy="710.6" r="1.2" fill="#d2232a"/>
<rect x="420.7" y="713.9" width="7.2" height="4.8" fill="#d2232a"/><rect x="422.9" y="713.9" width="1.2" height="4.8" fill="#ffffff"/><rect x="420.7" y="715.6" width="7.2" height="1.2" fill="#ffffff"/>
<rect x="420.7" y="719.50" width="7.2" height="2.45" fill="#14245e"/><rect x="420.7" y="721.90" width="7.2" height="2.45" fill="#14245e"/><rect x="420.7" y="719.5" width="3.2" height="2.6" fill="#d2232a"/>
<rect x="420.7" y="725.15" width="7.2" height="1.65" fill="#1f3f9c"/><rect x="420.7" y="726.75" width="7.2" height="1.65" fill="#ffffff"/><rect x="420.7" y="728.35" width="7.2" height="1.65" fill="#1f9a3c"/>
<rect x="420.7" y="730.80" width="7.2" height="1.65" fill="#1f9a3c"/><rect x="420.7" y="732.40" width="7.2" height="1.65" fill="#f6d417"/><rect x="420.7" y="734.00" width="7.2" height="1.65" fill="#75aadb"/>
<rect x="420.7" y="736.45" width="7.2" height="1.65" fill="#75aadb"/><rect x="420.7" y="738.05" width="7.2" height="1.65" fill="#ffffff"/><rect x="420.7" y="739.65" width="7.2" height="1.65" fill="#1f3f9c"/>
<rect x="420.7" y="742.10" width="7.2" height="1.65" fill="#d2232a"/><rect x="420.7" y="743.70" width="7.2" height="1.65" fill="#ffffff"/><rect x="420.7" y="745.30" width="7.2" height="1.65" fill="#111111"/>
<rect x="420.7" y="747.75" width="7.2" height="1.65" fill="#f6d417"/><rect x="420.7" y="749.35" width="7.2" height="1.65" fill="#f6d417"/><rect x="420.7" y="750.95" width="7.2" height="1.65" fill="#1f9a3c"/>
<rect x="420.7" y="753.4" width="7.2" height="4.8" fill="#1f9a3c"/><circle cx="424.3" cy="755.8" r="1.2" fill="#f6d417"/>
<rect x="420.7" y="759.05" width="7.2" height="1.65" fill="#1f9a3c"/><rect x="420.7" y="760.65" width="7.2" height="1.65" fill="#f6d417"/><rect x="420.7" y="762.25" width="7.2" height="1.65" fill="#d2232a"/>
<rect x="429.4" y="661" width="0.8" height="108.5" fill="#3a2a2a" fill-opacity="0.75"/>
<path d="M428.4,659.9 L430.4,658.2 L431.2,659.9Z" fill="#666"/>
<text x="428.4" y="656.2" font-size="3.6" font-weight="bold" textLength="2.8" lengthAdjust="spacingAndGlyphs" fill="#222">1.9</text>
<rect x="423.2" y="764.70" width="7.2" height="1.65" fill="#111111"/><rect x="423.2" y="766.30" width="7.2" height="1.65" fill="#ffffff"/><rect x="423.2" y="767.90" width="7.2" height="1.65" fill="#1f9a3c"/>
<rect x="431.9" y="661" width="0.8" height="114.1" fill="#3a2a2a" fill-opacity="0.75"/>
<path d="M430.9,659.9 L432.9,658.2 L433.7,659.9Z" fill="#666"/>
<text x="430.9" y="656.2" font-size="3.6" font-weight="bold" textLength="2.8" lengthAdjust="spacingAndGlyphs" fill="#222">1.9</text>
<rect x="425.7" y="770.35" width="7.2" height="1.65" fill="#1f9a3c"/><rect x="425.7" y="771.95" width="7.2" height="1.65" fill="#75aadb"/><rect x="425.7" y="773.55" width="7.2" height="1.65" fill="#d2232a"/>
<rect x="445.3" y="661" width="0.8" height="63.3" fill="#3a2a2a" fill-opacity="0.75"/>
<path d="M444.3,659.9 L446.3,658.2 L447.1,659.9Z" fill="#666"/>
<text x="444.3" y="656.2" font-size="3.6" font-weight="bold" textLength="2.8" lengthAdjust="spacingAndGlyphs" fill="#222">1.9</text>
<rect x="439.1" y="696.9" width="7.2" height="4.8" fill="#1f9a3c"/><circle cx="442.7" cy="699.3" r="1.2" fill="#ffffff"/>
<rect x="439.1" y="702.55" width="7.2" height="1.65" fill="#d2232a"/><rect x="439.1" y="704.15" width="7.2" height="1.65" fill="#d2232a"/><rect x="439.1" y="705.75" width="7.2" height="1.65" fill="#d2232a"/>
<rect x="439.1" y="708.20" width="7.2" height="1.65" fill="#1f9a3c"/><rect x="439.1" y="709.80" width="7.2" height="1.65" fill="#ffffff"/><rect x="439.1" y="711.40" width="7.2" height="1.65" fill="#d2232a"/>
<rect x="439.1" y="713.85" width="7.2" height="1.65" fill="#ffffff"/><rect x="439.1" y="715.45" width="7.2" height="1.65" fill="#d2232a"/><rect x="439.1" y="717.05" width="7.2" height="1.65" fill="#1f9a3c"/>
<rect x="439.1" y="719.50" width="7.2" height="1.65" fill="#8b1a1a"/><rect x="439.1" y="721.10" width="7.2" height="1.65" fill="#8b1a1a"/><rect x="439.1" y="722.70" width="7.2" height="1.65" fill="#8b1a1a"/>
<rect x="448.1" y="661" width="0.8" height="68.9" fill="#3a2a2a" fill-opacity="0.75"/>
<path d="M447.1,659.9 L449.1,658.2 L449.9,659.9Z" fill="#666"/>
<text x="447.1" y="656.2" font-size="3.6" font-weight="bold" textLength="2.8" lengthAdjust="spacingAndGlyphs" fill="#222">1.9</text>
<rect x="441.9" y="725.15" width="7.2" height="2.45" fill="#14245e"/><rect x="441.9" y="727.55" width="7.2" height="2.45" fill="#14245e"/><rect x="441.9" y="725.1" width="3.2" height="2.6" fill="#d2232a"/>
<rect x="453.1" y="661" width="0.8" height="80.2" fill="#3a2a2a" fill-opacity="0.75"/>
<path d="M452.1,659.9 L454.1,658.2 L454.9,659.9Z" fill="#666"/>
<text x="452.1" y="656.2" font-size="3.6" font-weight="bold" textLength="2.8" lengthAdjust="spacingAndGlyphs" fill="#222">2.0</text>
<rect x="446.90" y="730.8" width="2.45" height="4.8" fill="#1f9a3c"/><rect x="449.30" y="730.8" width="2.45" height="4.8" fill="#ffffff"/><rect x="451.70" y="730.8" width="2.45" height="4.8" fill="#d2232a"/>
<rect x="446.9" y="736.45" width="7.2" height="1.65" fill="#75aadb"/><rect x="446.9" y="738.05" width="7.2" height="1.65" fill="#ffffff"/><rect x="446.9" y="739.65" width="7.2" height="1.65" fill="#75aadb"/>
<rect x="479.0" y="661" width="0.8" height="40.7" fill="#3a2a2a" fill-opacity="0.75"/>
<path d="M478.0,659.9 L480.0,658.2 L480.8,659.9Z" fill="#666"/>
<text x="478.0" y="656.2" font-size="3.6" font-weight="bold" textLength="2.8" lengthAdjust="spacingAndGlyphs" fill="#222">2.1</text>
<rect x="472.8" y="696.9" width="7.2" height="4.8" fill="#d2232a"/><circle cx="476.4" cy="699.3" r="1.2" fill="#ffffff"/>
<rect x="521.3" y="661" width="0.8" height="40.7" fill="#3a2a2a" fill-opacity="0.75"/>
<path d="M520.3,659.9 L522.3,658.2 L523.1,659.9Z" fill="#666"/>
<text x="520.3" y="656.2" font-size="3.6" font-weight="bold" textLength="2.8" lengthAdjust="spacingAndGlyphs" fill="#222">2.2</text>
<rect x="515.1" y="696.90" width="7.2" height="1.65" fill="#f6d417"/><rect x="515.1" y="698.50" width="7.2" height="1.65" fill="#8b1a1a"/><rect x="515.1" y="700.10" width="7.2" height="1.65" fill="#111111"/>
<rect x="531.0" y="661" width="0.8" height="52.0" fill="#3a2a2a" fill-opacity="0.75"/>
<path d="M530.0,659.9 L532.0,658.2 L532.8,659.9Z" fill="#666"/>
<text x="530.0" y="656.2" font-size="3.6" font-weight="bold" textLength="2.8" lengthAdjust="spacingAndGlyphs" fill="#222">2.3</text>
<rect x="524.8" y="696.9" width="7.2" height="4.8" fill="#1f9a3c"/><circle cx="528.4" cy="699.3" r="1.2" fill="#ffffff"/>
<rect x="524.80" y="702.5" width="2.45" height="4.8" fill="#1f9a3c"/><rect x="527.20" y="702.5" width="2.45" height="4.8" fill="#d2232a"/><rect x="529.60" y="702.5" width="2.45" height="4.8" fill="#d2232a"/>
<rect x="524.8" y="708.2" width="7.2" height="4.8" fill="#d2232a"/><circle cx="528.4" cy="710.6" r="1.2" fill="#f6d417"/>
<rect x="546.7" y="661" width="0.8" height="40.7" fill="#3a2a2a" fill-opacity="0.75"/>
<path d="M545.7,659.9 L547.7,658.2 L548.5,659.9Z" fill="#666"/>
<text x="545.7" y="656.2" font-size="3.6" font-weight="bold" textLength="2.8" lengthAdjust="spacingAndGlyphs" fill="#222">2.3</text>
<rect x="540.5" y="696.90" width="7.2" height="1.65" fill="#75aadb"/><rect x="540.5" y="698.50" width="7.2" height="1.65" fill="#ffffff"/><rect x="540.5" y="700.10" width="7.2" height="1.65" fill="#75aadb"/>
<rect x="557.2" y="661" width="0.8" height="46.3" fill="#3a2a2a" fill-opacity="0.75"/>
<path d="M556.2,659.9 L558.2,658.2 L559.0,659.9Z" fill="#666"/>
<text x="556.2" y="656.2" font-size="3.6" font-weight="bold" textLength="2.8" lengthAdjust="spacingAndGlyphs" fill="#222">2.4</text>
<rect x="551.0" y="696.90" width="7.2" height="1.65" fill="#f6d417"/><rect x="551.0" y="698.50" width="7.2" height="1.65" fill="#1f9a3c"/><rect x="551.0" y="700.10" width="7.2" height="1.65" fill="#d2232a"/>
<rect x="551.0" y="702.55" width="7.2" height="1.65" fill="#d2232a"/><rect x="551.0" y="704.15" width="7.2" height="1.65" fill="#ffffff"/><rect x="551.0" y="705.75" width="7.2" height="1.65" fill="#d2232a"/>
<rect x="559.7" y="661" width="0.8" height="52.0" fill="#3a2a2a" fill-opacity="0.75"/>
<path d="M558.7,659.9 L560.7,658.2 L561.5,659.9Z" fill="#666"/>
<text x="558.7" y="656.2" font-size="3.6" font-weight="bold" textLength="2.8" lengthAdjust="spacingAndGlyphs" fill="#222">2.4</text>
<rect x="553.5" y="708.20" width="7.2" height="1.65" fill="#f6d417"/><rect x="553.5" y="709.80" width="7.2" height="1.65" fill="#1f3f9c"/><rect x="553.5" y="711.40" width="7.2" height="1.65" fill="#d2232a"/>
<rect x="583.1" y="661" width="0.8" height="40.7" fill="#3a2a2a" fill-opacity="0.75"/>
<path d="M582.1,659.9 L584.1,658.2 L584.9,659.9Z" fill="#666"/>
<text x="582.1" y="656.2" font-size="3.6" font-weight="bold" textLength="2.8" lengthAdjust="spacingAndGlyphs" fill="#222">2.5</text>
<rect x="576.9" y="696.90" width="7.2" height="2.45" fill="#d2232a"/><rect x="576.9" y="699.30" width="7.2" height="2.45" fill="#111111"/>
<rect x="617.3" y="661" width="0.8" height="40.7" fill="#3a2a2a" fill-opacity="0.75"/>
<path d="M616.3,659.9 L618.3,658.2 L619.1,659.9Z" fill="#666"/>
<text x="616.3" y="656.2" font-size="3.6" font-weight="bold" textLength="2.8" lengthAdjust="spacingAndGlyphs" fill="#222">2.6</text>
<rect x="611.1" y="696.9" width="7.2" height="4.8" fill="#d2232a"/><circle cx="614.7" cy="699.3" r="1.2" fill="#f6d417"/>
<rect x="640.2" y="661" width="0.8" height="40.7" fill="#3a2a2a" fill-opacity="0.75"/>
<path d="M639.2,659.9 L641.2,658.2 L642.0,659.9Z" fill="#666"/>
<text x="639.2" y="656.2" font-size="3.6" font-weight="bold" textLength="2.8" lengthAdjust="spacingAndGlyphs" fill="#222">2.7</text>
<rect x="634.0" y="696.9" width="7.2" height="4.8" fill="#ffffff"/><circle cx="637.6" cy="699.3" r="1.2" fill="#d2232a"/>
<rect x="651.2" y="661" width="0.8" height="40.7" fill="#3a2a2a" fill-opacity="0.75"/>
<path d="M650.2,659.9 L652.2,658.2 L653.0,659.9Z" fill="#666"/>
<text x="650.2" y="656.2" font-size="3.6" font-weight="bold" textLength="2.8" lengthAdjust="spacingAndGlyphs" fill="#222">2.7</text>
<rect x="645.0" y="696.9" width="7.2" height="4.8" fill="#ffffff"/><rect x="647.2" y="696.9" width="1.2" height="4.8" fill="#1f3f9c"/><rect x="645.0" y="698.7" width="7.2" height="1.2" fill="#1f3f9c"/>
<rect x="653.5" y="661" width="0.8" height="46.3" fill="#3a2a2a" fill-opacity="0.75"/>
<path d="M652.5,659.9 L654.5,658.2 L655.3,659.9Z" fill="#666"/>
<text x="652.5" y="656.2" font-size="3.6" font-weight="bold" textLength="2.8" lengthAdjust="spacingAndGlyphs" fill="#222">2.7</text>
<rect x="647.3" y="702.55" width="7.2" height="2.45" fill="#ffffff"/><rect x="647.3" y="704.95" width="7.2" height="2.45" fill="#d2232a"/><rect x="647.3" y="702.5" width="3.2" height="2.6" fill="#1f3f9c"/>
<rect x="679.6" y="661" width="0.8" height="40.7" fill="#3a2a2a" fill-opacity="0.75"/>
<path d="M678.6,659.9 L680.6,658.2 L681.4,659.9Z" fill="#666"/>
<text x="678.6" y="656.2" font-size="3.6" font-weight="bold" textLength="2.8" lengthAdjust="spacingAndGlyphs" fill="#222">2.8</text>
<rect x="673.40" y="696.9" width="2.45" height="4.8" fill="#d2232a"/><rect x="675.80" y="696.9" width="2.45" height="4.8" fill="#ffffff"/><rect x="678.20" y="696.9" width="2.45" height="4.8" fill="#d2232a"/>
<rect x="755.2" y="661" width="0.8" height="40.7" fill="#3a2a2a" fill-opacity="0.75"/>
<path d="M754.2,659.9 L756.2,658.2 L757.0,659.9Z" fill="#666"/>
<text x="754.2" y="656.2" font-size="3.6" font-weight="bold" textLength="2.8" lengthAdjust="spacingAndGlyphs" fill="#222">3.1</text>
<rect x="749.00" y="696.9" width="2.45" height="4.8" fill="#1f9a3c"/><rect x="751.40" y="696.9" width="2.45" height="4.8" fill="#ffffff"/><rect x="753.80" y="696.9" width="2.45" height="4.8" fill="#d2232a"/>
<rect x="791.4" y="661" width="0.8" height="40.7" fill="#3a2a2a" fill-opacity="0.75"/>
<path d="M790.4,659.9 L792.4,658.2 L793.2,659.9Z" fill="#666"/>
<text x="790.4" y="656.2" font-size="3.6" font-weight="bold" textLength="2.8" lengthAdjust="spacingAndGlyphs" fill="#222">3.3</text>
<rect x="785.2" y="696.9" width="7.2" height="4.8" fill="#d2232a"/><circle cx="788.8" cy="699.3" r="1.2" fill="#ffffff"/>
<rect x="823.1" y="661" width="0.8" height="46.3" fill="#3a2a2a" fill-opacity="0.75"/>
<path d="M822.1,659.9 L824.1,658.2 L824.9,659.9Z" fill="#666"/>
<text x="822.1" y="656.2" font-size="3.6" font-weight="bold" textLength="2.8" lengthAdjust="spacingAndGlyphs" fill="#222">3.4</text>
<rect x="816.9" y="696.90" width="7.2" height="1.65" fill="#75aadb"/><rect x="816.9" y="698.50" width="7.2" height="1.65" fill="#ffffff"/><rect x="816.9" y="700.10" width="7.2" height="1.65" fill="#75aadb"/>
<rect x="816.9" y="702.5" width="7.2" height="4.8" fill="#1f3f9c"/><rect x="819.1" y="702.5" width="1.2" height="4.8" fill="#d2232a"/><rect x="816.9" y="704.3" width="7.2" height="1.2" fill="#d2232a"/>
<rect x="844.0" y="661" width="0.8" height="52.0" fill="#3a2a2a" fill-opacity="0.75"/>
<path d="M843.0,659.9 L845.0,658.2 L845.8,659.9Z" fill="#666"/>
<text x="843.0" y="656.2" font-size="3.6" font-weight="bold" textLength="2.8" lengthAdjust="spacingAndGlyphs" fill="#222">3.5</text>
<rect x="837.8" y="696.90" width="7.2" height="1.65" fill="#1f9a3c"/><rect x="837.8" y="698.50" width="7.2" height="1.65" fill="#ffffff"/><rect x="837.8" y="700.10" width="7.2" height="1.65" fill="#111111"/>
<rect x="837.8" y="702.55" width="7.2" height="1.25" fill="#d2232a"/><rect x="837.8" y="703.75" width="7.2" height="1.25" fill="#ffffff"/><rect x="837.8" y="704.95" width="7.2" height="1.25" fill="#d2232a"/><rect x="837.8" y="706.15" width="7.2" height="1.25" fill="#ffffff"/><rect x="837.8" y="702.5" width="3.2" height="2.6" fill="#1f3f9c"/>
<rect x="837.8" y="708.20" width="7.2" height="1.65" fill="#d2232a"/><rect x="837.8" y="709.80" width="7.2" height="1.65" fill="#d2232a"/><rect x="837.8" y="711.40" width="7.2" height="1.65" fill="#d2232a"/>
<rect x="849.0" y="661" width="0.8" height="57.6" fill="#3a2a2a" fill-opacity="0.75"/>
<path d="M848.0,659.9 L850.0,658.2 L850.8,659.9Z" fill="#666"/>
<text x="848.0" y="656.2" font-size="3.6" font-weight="bold" textLength="2.8" lengthAdjust="spacingAndGlyphs" fill="#222">3.5</text>
<rect x="842.80" y="713.9" width="2.45" height="4.8" fill="#1f3f9c"/><rect x="845.20" y="713.9" width="2.45" height="4.8" fill="#ffffff"/><rect x="847.60" y="713.9" width="2.45" height="4.8" fill="#d2232a"/>
<rect x="856.9" y="661" width="0.8" height="40.7" fill="#3a2a2a" fill-opacity="0.75"/>
<path d="M855.9,659.9 L857.9,658.2 L858.7,659.9Z" fill="#666"/>
<text x="855.9" y="656.2" font-size="3.6" font-weight="bold" textLength="2.8" lengthAdjust="spacingAndGlyphs" fill="#222">3.5</text>
<rect x="850.7" y="696.90" width="7.2" height="1.65" fill="#75aadb"/><rect x="850.7" y="698.50" width="7.2" height="1.65" fill="#ffffff"/><rect x="850.7" y="700.10" width="7.2" height="1.65" fill="#75aadb"/>
<rect x="918.3" y="661" width="0.8" height="40.7" fill="#3a2a2a" fill-opacity="0.75"/>
<path d="M917.3,659.9 L919.3,658.2 L920.1,659.9Z" fill="#666"/>
<text x="917.3" y="656.2" font-size="3.6" font-weight="bold" textLength="2.8" lengthAdjust="spacingAndGlyphs" fill="#222">3.7</text>
<rect x="912.1" y="696.9" width="7.2" height="4.8" fill="#1f9a3c"/><circle cx="915.7" cy="699.3" r="1.2" fill="#f6d417"/>
<rect x="973.3" y="661" width="0.8" height="40.7" fill="#3a2a2a" fill-opacity="0.75"/>
<path d="M972.3,659.9 L974.3,658.2 L975.1,659.9Z" fill="#666"/>
<text x="972.3" y="656.2" font-size="3.6" font-weight="bold" textLength="2.8" lengthAdjust="spacingAndGlyphs" fill="#222">4.0</text>
<rect x="967.1" y="696.90" width="7.2" height="1.65" fill="#ffffff"/><rect x="967.1" y="698.50" width="7.2" height="1.65" fill="#1f3f9c"/><rect x="967.1" y="700.10" width="7.2" height="1.65" fill="#d2232a"/>
<rect x="1103.3" y="661" width="0.8" height="40.7" fill="#3a2a2a" fill-opacity="0.75"/>
<path d="M1102.3,659.9 L1104.3,658.2 L1105.1,659.9Z" fill="#666"/>
<text x="1102.3" y="656.2" font-size="3.6" font-weight="bold" textLength="2.8" lengthAdjust="spacingAndGlyphs" fill="#222">4.5</text>
<rect x="1097.1" y="696.90" width="7.2" height="1.25" fill="#d2232a"/><rect x="1097.1" y="698.10" width="7.2" height="1.25" fill="#ffffff"/><rect x="1097.1" y="699.30" width="7.2" height="1.25" fill="#d2232a"/><rect x="1097.1" y="700.50" width="7.2" height="1.25" fill="#ffffff"/><rect x="1097.1" y="696.9" width="3.2" height="2.6" fill="#1f3f9c"/>
<path d="M453.4,649.3 L446.0,634.5 A9,9 0 1 1 460.8,634.5 Z" fill="#1f4fc4"/>
<text x="453.4" y="634" font-size="12" text-anchor="middle" fill="#fff">2x</text>
<path d="M713.4,649.3 L706.0,634.5 A9,9 0 1 1 720.8,634.5 Z" fill="#1f4fc4"/>
<text x="713.4" y="634" font-size="12" text-anchor="middle" fill="#fff">3x</text>
<path d="M973.7,649.3 L966.3,634.5 A9,9 0 1 1 981.1,634.5 Z" fill="#1f4fc4"/>
<text x="973.7" y="634" font-size="12" text-anchor="middle" fill="#fff">4x</text>
<g font-weight="bold" font-size="11.3" fill="#111">
<text x="493.5" y="758.2" textLength="268" lengthAdjust="spacingAndGlyphs">The price of healthcare in the world according to the</text>
<text x="805" y="758.2" textLength="161" lengthAdjust="spacingAndGlyphs">, France’s biggest HMO, and the</text>
<text x="1019" y="758.2" textLength="164" lengthAdjust="spacingAndGlyphs">, France’s biggest student HMO.</text>
</g>
<text x="765" y="758.2" font-size="13" fill="#1d6a8c" textLength="39" lengthAdjust="spacingAndGlyphs">MGEN</text>
<polygon points="800.9,736.2 802.8,739.2 806.4,738.9 804.1,741.6 805.5,744.9 802.2,743.6 799.5,746.0 799.7,742.4 796.7,740.6 800.1,739.7" fill="#5cb531" stroke="#3f8f22" stroke-width="0.5"/>
<path d="M764,765.5 Q782,757.5 806,762.5 Q783,759.8 764,765.5Z" fill="#9ccb3b" stroke="#9ccb3b" stroke-width="0.5"/>
<text x="983.5" y="758.2" font-size="11.8" font-weight="bold" fill="#a3238e" textLength="36" lengthAdjust="spacingAndGlyphs">LMDE</text>
 <path transform="translate(1.5,0)" d="M970,760 L974,758.5 L976.5,750.5 M973,752 L980.5,753.5 M975.6,755 L980,759" fill="none" stroke="#a3238e" stroke-width="1.4" stroke-linecap="round"/>
<circle cx="979.3" cy="749.2" r="1.3" fill="#a3238e"/>
<path d="M968,761.5 L975,760" stroke="#888" stroke-width="0.5"/>
<g font-size="8.58" fill="#000" stroke="#000" stroke-width="0.18" text-anchor="middle">
<text x="837" y="779.0" textLength="546.5" lengthAdjust="spacingAndGlyphs">Charted here is the “coefficient correcteur” of each country used by both HMOs to calculate how much their clients must be repaid while abroad.</text>
<text x="837" y="789.0" textLength="360.0" lengthAdjust="spacingAndGlyphs">Calculus is simple : Amount repaid in France x “coefficient correcteur” = Amount repaid abroad.</text>
<text x="837" y="808.7">For instance, going to the general practician (GP) in France costs 23€.</text>
<text x="837" y="818.8">A client visiting a GP in the USA would be repaid 23x4.50 = 103.5€</text>
<text x="837" y="828.9">Which is good, since it does cost between 90€ and 100€ on average to go to the GP in the US, depending on $/€ exchange rates.</text>
<text x="837" y="848.8">You can’t be repaid more than what you actualy paid, so countries in green get the same rates as in France.</text>
</g>
<text x="837" y="862.3" font-size="5.25" fill="#222" text-anchor="middle">Data from MGEN and LMDE brochures.</text>
</svg>
</body></html>
